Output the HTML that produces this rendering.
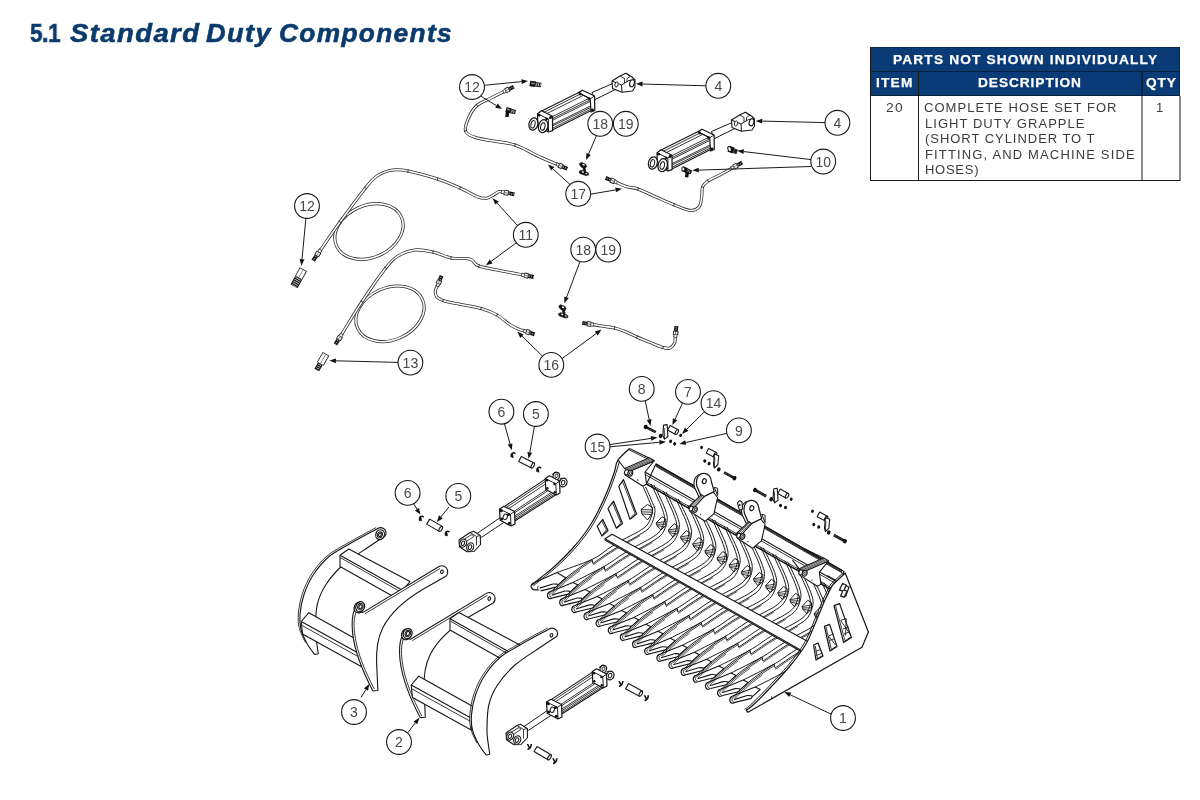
<!DOCTYPE html>
<html><head><meta charset="utf-8">
<style>
html,body{margin:0;padding:0;background:#fff;}
body{width:1200px;height:800px;position:relative;overflow:hidden;font-family:"Liberation Sans",sans-serif;}
.t{position:absolute;white-space:nowrap;transform-origin:0 0;line-height:normal;will-change:transform;}
.b{position:absolute;}
svg{position:absolute;left:0;top:0;filter:grayscale(1);}
</style></head><body>
<div class="b" style="left:870px;top:47px;width:310px;height:49px;background:#0a3b76"></div>
<div class="b" style="left:870px;top:47px;width:310px;height:1px;background:#0a2a55"></div>
<div class="b" style="left:870px;top:71px;width:310px;height:1px;background:#06203f"></div>
<div class="b" style="left:870px;top:95px;width:310px;height:1px;background:#06203f"></div>
<div class="b" style="left:870px;top:47px;width:1px;height:134px;background:#1a1a1a"></div>
<div class="b" style="left:918px;top:72px;width:1px;height:109px;background:#1a1a1a"></div>
<div class="b" style="left:1141px;top:72px;width:1.5px;height:24px;background:#06203f"></div>
<div class="b" style="left:1141px;top:96px;width:1.5px;height:85px;background:#8c8c8c"></div>
<div class="b" style="left:1179px;top:47px;width:1px;height:49px;background:#0a2a55"></div>
<div class="b" style="left:1179px;top:96px;width:1.5px;height:85px;background:#8c8c8c"></div>
<div class="b" style="left:870px;top:180px;width:310px;height:1px;background:#1a1a1a"></div>
<div class="t" style="-webkit-text-stroke:0.55px #0b3a6c;left:30.4px;top:19.4px;font-size:25.8px;font-weight:bold;font-style:normal;color:#0b3a6c;letter-spacing:-0.50px;transform:scaleX(0.8774)">5.1</div>
<div class="t" style="-webkit-text-stroke:0.55px #0b3a6c;left:70.0px;top:19.4px;font-size:25.8px;font-weight:bold;font-style:italic;color:#0b3a6c;letter-spacing:1.30px;transform:scaleX(1.0669)">Standard</div>
<div class="t" style="-webkit-text-stroke:0.55px #0b3a6c;left:206.0px;top:19.4px;font-size:25.8px;font-weight:bold;font-style:italic;color:#0b3a6c;letter-spacing:1.30px;transform:scaleX(1.0534)">Duty</div>
<div class="t" style="-webkit-text-stroke:0.55px #0b3a6c;left:278.7px;top:19.4px;font-size:25.8px;font-weight:bold;font-style:italic;color:#0b3a6c;letter-spacing:1.30px;transform:scaleX(1.0192)">Components</div>
<div class="t" style="-webkit-text-stroke:0.25px #fff;left:893.3px;top:51.6px;font-size:13.7px;font-weight:bold;font-style:normal;color:#fff;letter-spacing:1.16px;transform:scaleX(1.0000)">PARTS NOT SHOWN INDIVIDUALLY</div>
<div class="t" style="-webkit-text-stroke:0.25px #fff;left:876.4px;top:75.4px;font-size:13.7px;font-weight:bold;font-style:normal;color:#fff;letter-spacing:1.20px;transform:scaleX(1.0000)">ITEM</div>
<div class="t" style="-webkit-text-stroke:0.25px #fff;left:978.4px;top:75.4px;font-size:13.7px;font-weight:bold;font-style:normal;color:#fff;letter-spacing:0.94px;transform:scaleX(1.0000)">DESCRIPTION</div>
<div class="t" style="-webkit-text-stroke:0.25px #fff;left:1146.0px;top:75.4px;font-size:13.7px;font-weight:bold;font-style:normal;color:#fff;letter-spacing:0.93px;transform:scaleX(1.0000)">QTY</div>
<div class="t" style="left:886.0px;top:100.0px;font-size:13.0px;font-weight:normal;font-style:normal;color:#3c3c3c;letter-spacing:1.30px;transform:scaleX(1.0591)">20</div>
<div class="t" style="left:1156.3px;top:100.0px;font-size:13.0px;font-weight:normal;font-style:normal;color:#3c3c3c;letter-spacing:-0.03px;transform:scaleX(0.9952)">1</div>
<div class="t" style="left:924.0px;top:100.0px;font-size:13.0px;font-weight:normal;font-style:normal;color:#3c3c3c;letter-spacing:1.04px;transform:scaleX(1.0000)">COMPLETE HOSE SET FOR</div>
<div class="t" style="left:924.5px;top:115.6px;font-size:13.0px;font-weight:normal;font-style:normal;color:#3c3c3c;letter-spacing:1.04px;transform:scaleX(1.0000)">LIGHT DUTY GRAPPLE</div>
<div class="t" style="left:924.5px;top:131.2px;font-size:13.0px;font-weight:normal;font-style:normal;color:#3c3c3c;letter-spacing:0.96px;transform:scaleX(1.0000)">(SHORT CYLINDER TO T</div>
<div class="t" style="left:924.5px;top:146.8px;font-size:13.0px;font-weight:normal;font-style:normal;color:#3c3c3c;letter-spacing:1.15px;transform:scaleX(1.0000)">FITTING, AND MACHINE SIDE</div>
<div class="t" style="left:924.5px;top:162.4px;font-size:13.0px;font-weight:normal;font-style:normal;color:#3c3c3c;letter-spacing:0.73px;transform:scaleX(1.0000)">HOSES)</div>

<svg id="dwg" width="1200" height="800" viewBox="0 0 1200 800" fill="none" stroke="#222" stroke-width="1" font-family="Liberation Sans, sans-serif">
<path d="M503.5 91.8C501.2 92.9 494.4 96.2 490.0 98.5C485.6 100.8 480.5 102.4 477.0 105.5C473.5 108.6 470.9 112.8 469.0 117.0C467.1 121.2 464.7 127.7 465.5 131.0C466.3 134.3 469.9 135.4 474.0 137.0C478.1 138.6 483.2 139.2 490.0 140.5C496.8 141.8 506.7 142.2 515.0 145.0C523.3 147.8 533.0 153.8 540.0 157.0C547.0 160.2 553.9 163.0 556.7 164.2" stroke="#2b2b2b" stroke-width="3.10" stroke-linecap="butt" stroke-linejoin="round"/>
<path d="M503.5 91.8C501.2 92.9 494.4 96.2 490.0 98.5C485.6 100.8 480.5 102.4 477.0 105.5C473.5 108.6 470.9 112.8 469.0 117.0C467.1 121.2 464.7 127.7 465.5 131.0C466.3 134.3 469.9 135.4 474.0 137.0C478.1 138.6 483.2 139.2 490.0 140.5C496.8 141.8 506.7 142.2 515.0 145.0C523.3 147.8 533.0 153.8 540.0 157.0C547.0 160.2 553.9 163.0 556.7 164.2" stroke="#fff" stroke-width="1.55" stroke-linecap="butt" stroke-linejoin="round"/>
<path d="M476.0 104.3L478.0 106.7" stroke="#161616" stroke-width="0.85"/>
<path d="M464.0 131.4L467.0 130.6" stroke="#161616" stroke-width="0.85"/>
<path d="M514.5 146.5L515.5 143.5" stroke="#161616" stroke-width="0.85"/>
<path d="M503.1 92.0L505.4 90.9" stroke="#222" stroke-width="3.90"/>
<path d="M503.6 91.8L505.4 90.9" stroke="#fff" stroke-width="2.30"/>
<path d="M505.4 90.9L509.2 89.0" stroke="#1a1a1a" stroke-width="5.40"/>
<path d="M506.0 90.6L508.5 89.3" stroke="#f4f4f4" stroke-width="3.60"/>
<path d="M506.0 90.6L508.5 89.3" stroke="#555" stroke-width="0.73"/>
<path d="M509.2 89.0L513.8 86.7" stroke="#111" stroke-width="3.90"/>
<path d="M509.9 88.6L513.8 86.7" stroke="#bbb" stroke-width="1.60" stroke-dasharray="0.7 1.3"/>
<path d="M556.2 164.0L558.6 165.0" stroke="#222" stroke-width="3.90"/>
<path d="M556.8 164.2L558.6 165.0" stroke="#fff" stroke-width="2.30"/>
<path d="M558.6 165.0L562.5 166.7" stroke="#1a1a1a" stroke-width="5.40"/>
<path d="M559.3 165.3L561.9 166.4" stroke="#f4f4f4" stroke-width="3.60"/>
<path d="M559.3 165.3L561.9 166.4" stroke="#555" stroke-width="0.73"/>
<path d="M562.5 166.7L567.3 168.8" stroke="#111" stroke-width="3.90"/>
<path d="M563.2 167.0L567.3 168.8" stroke="#bbb" stroke-width="1.60" stroke-dasharray="0.7 1.3"/>
<path d="M616.7 182.5C618.4 183.2 623.5 185.7 627.0 186.8C630.5 187.9 633.2 187.3 638.0 189.0C642.8 190.7 650.0 194.4 656.0 197.0C662.0 199.6 668.3 202.6 674.0 204.8C679.7 207.0 685.8 210.0 690.0 210.4C694.2 210.8 697.0 209.2 699.0 207.0C701.0 204.8 701.1 200.3 701.7 197.0C702.3 193.7 701.5 189.7 702.5 187.0C703.5 184.3 705.1 183.0 708.0 181.0C710.9 179.0 716.0 176.9 720.0 174.8C724.0 172.7 729.8 169.4 731.7 168.3" stroke="#2b2b2b" stroke-width="3.10" stroke-linecap="butt" stroke-linejoin="round"/>
<path d="M616.7 182.5C618.4 183.2 623.5 185.7 627.0 186.8C630.5 187.9 633.2 187.3 638.0 189.0C642.8 190.7 650.0 194.4 656.0 197.0C662.0 199.6 668.3 202.6 674.0 204.8C679.7 207.0 685.8 210.0 690.0 210.4C694.2 210.8 697.0 209.2 699.0 207.0C701.0 204.8 701.1 200.3 701.7 197.0C702.3 193.7 701.5 189.7 702.5 187.0C703.5 184.3 705.1 183.0 708.0 181.0C710.9 179.0 716.0 176.9 720.0 174.8C724.0 172.7 729.8 169.4 731.7 168.3" stroke="#fff" stroke-width="1.55" stroke-linecap="butt" stroke-linejoin="round"/>
<path d="M637.5 190.5L638.5 187.5" stroke="#161616" stroke-width="0.85"/>
<path d="M673.4 206.2L674.6 203.4" stroke="#161616" stroke-width="0.85"/>
<path d="M703.9 187.6L701.1 186.4" stroke="#161616" stroke-width="0.85"/>
<path d="M708.9 182.3L707.1 179.7" stroke="#161616" stroke-width="0.85"/>
<path d="M617.2 182.7L614.7 181.7" stroke="#222" stroke-width="3.90"/>
<path d="M616.6 182.5L614.7 181.7" stroke="#fff" stroke-width="2.30"/>
<path d="M614.7 181.7L610.6 180.0" stroke="#1a1a1a" stroke-width="5.40"/>
<path d="M614.0 181.4L611.3 180.2" stroke="#f4f4f4" stroke-width="3.60"/>
<path d="M614.0 181.4L611.3 180.2" stroke="#555" stroke-width="0.73"/>
<path d="M610.6 180.0L605.6 177.9" stroke="#111" stroke-width="3.90"/>
<path d="M609.9 179.6L605.6 177.9" stroke="#bbb" stroke-width="1.60" stroke-dasharray="0.7 1.3"/>
<path d="M731.3 168.5L733.6 167.2" stroke="#222" stroke-width="3.90"/>
<path d="M731.8 168.3L733.6 167.2" stroke="#fff" stroke-width="2.30"/>
<path d="M733.6 167.2L737.5 165.1" stroke="#1a1a1a" stroke-width="5.40"/>
<path d="M734.2 166.9L736.9 165.4" stroke="#f4f4f4" stroke-width="3.60"/>
<path d="M734.2 166.9L736.9 165.4" stroke="#555" stroke-width="0.73"/>
<path d="M737.5 165.1L742.2 162.5" stroke="#111" stroke-width="3.90"/>
<path d="M738.2 164.7L742.2 162.5" stroke="#bbb" stroke-width="1.60" stroke-dasharray="0.7 1.3"/>
<ellipse cx="369" cy="231.5" rx="35.5" ry="26" transform="rotate(-24 369 231.5)" stroke="#2b2b2b" stroke-width="3.10"/>
<ellipse cx="369" cy="231.5" rx="35.5" ry="26" transform="rotate(-24 369 231.5)" stroke="#fff" stroke-width="1.55"/>
<path d="M320.5 250.0C323.8 245.3 332.5 232.3 340.0 222.0C347.5 211.7 359.3 195.7 365.5 188.0C371.7 180.3 372.5 179.0 377.0 176.0C381.5 173.0 387.3 170.8 392.5 170.0C397.7 169.2 400.5 169.5 408.0 171.0C415.5 172.5 428.8 176.2 437.5 179.0C446.2 181.8 453.2 185.0 460.0 188.0C466.8 191.0 473.6 195.3 478.0 197.0C482.4 198.7 484.0 198.5 486.5 198.2C489.0 197.9 491.2 196.3 493.0 195.3C494.8 194.3 496.4 192.9 497.5 192.3C498.6 191.7 498.8 191.6 499.5 191.5C500.2 191.4 501.2 191.8 501.6 191.9" stroke="#2b2b2b" stroke-width="3.10" stroke-linecap="butt" stroke-linejoin="round"/>
<path d="M320.5 250.0C323.8 245.3 332.5 232.3 340.0 222.0C347.5 211.7 359.3 195.7 365.5 188.0C371.7 180.3 372.5 179.0 377.0 176.0C381.5 173.0 387.3 170.8 392.5 170.0C397.7 169.2 400.5 169.5 408.0 171.0C415.5 172.5 428.8 176.2 437.5 179.0C446.2 181.8 453.2 185.0 460.0 188.0C466.8 191.0 473.6 195.3 478.0 197.0C482.4 198.7 484.0 198.5 486.5 198.2C489.0 197.9 491.2 196.3 493.0 195.3C494.8 194.3 496.4 192.9 497.5 192.3C498.6 191.7 498.8 191.6 499.5 191.5C500.2 191.4 501.2 191.8 501.6 191.9" stroke="#fff" stroke-width="1.55" stroke-linecap="butt" stroke-linejoin="round"/>
<path d="M341.3 222.9L338.7 221.1" stroke="#161616" stroke-width="0.85"/>
<path d="M366.7 189.0L364.3 187.0" stroke="#161616" stroke-width="0.85"/>
<path d="M407.7 172.5L408.3 169.5" stroke="#161616" stroke-width="0.85"/>
<path d="M437.0 180.5L438.0 177.5" stroke="#161616" stroke-width="0.85"/>
<path d="M459.4 189.4L460.6 186.6" stroke="#161616" stroke-width="0.85"/>
<path d="M320.8 249.6L319.1 252.0" stroke="#222" stroke-width="3.90"/>
<path d="M320.4 250.1L319.1 252.0" stroke="#fff" stroke-width="2.30"/>
<path d="M319.1 252.0L316.4 255.9" stroke="#1a1a1a" stroke-width="5.40"/>
<path d="M318.7 252.5L316.8 255.3" stroke="#f4f4f4" stroke-width="3.60"/>
<path d="M318.7 252.5L316.8 255.3" stroke="#555" stroke-width="0.73"/>
<path d="M316.4 255.9L313.1 260.7" stroke="#111" stroke-width="3.90"/>
<path d="M316.0 256.5L313.1 260.7" stroke="#bbb" stroke-width="1.60" stroke-dasharray="0.7 1.3"/>
<path d="M501.1 191.8L503.9 192.3" stroke="#222" stroke-width="3.90"/>
<path d="M501.7 191.9L503.9 192.3" stroke="#fff" stroke-width="2.30"/>
<path d="M503.9 192.3L508.6 193.2" stroke="#1a1a1a" stroke-width="5.40"/>
<path d="M504.6 192.5L507.9 193.1" stroke="#f4f4f4" stroke-width="3.60"/>
<path d="M504.6 192.5L507.9 193.1" stroke="#555" stroke-width="0.73"/>
<path d="M508.6 193.2L514.4 194.3" stroke="#111" stroke-width="3.90"/>
<path d="M509.4 193.4L514.4 194.3" stroke="#bbb" stroke-width="1.60" stroke-dasharray="0.7 1.3"/>
<ellipse cx="390" cy="313.8" rx="35.5" ry="26" transform="rotate(-24 390 313.8)" stroke="#2b2b2b" stroke-width="3.10"/>
<ellipse cx="390" cy="313.8" rx="35.5" ry="26" transform="rotate(-24 390 313.8)" stroke="#fff" stroke-width="1.55"/>
<path d="M341.8 334.2C345.1 328.8 354.7 312.6 362.0 301.6C369.3 290.6 379.8 275.6 385.8 268.0C391.8 260.4 393.1 259.0 398.0 256.0C402.9 253.0 409.2 250.7 415.0 250.0C420.8 249.3 427.0 250.7 433.0 252.0C439.0 253.3 445.5 256.9 451.0 258.0C456.5 259.1 462.5 258.2 466.0 258.5C469.5 258.8 469.8 258.8 472.0 260.0C474.2 261.2 473.5 264.1 479.0 266.0C484.5 267.9 497.9 270.0 505.0 271.5C512.1 273.0 519.1 274.2 521.9 274.8" stroke="#2b2b2b" stroke-width="3.10" stroke-linecap="butt" stroke-linejoin="round"/>
<path d="M341.8 334.2C345.1 328.8 354.7 312.6 362.0 301.6C369.3 290.6 379.8 275.6 385.8 268.0C391.8 260.4 393.1 259.0 398.0 256.0C402.9 253.0 409.2 250.7 415.0 250.0C420.8 249.3 427.0 250.7 433.0 252.0C439.0 253.3 445.5 256.9 451.0 258.0C456.5 259.1 462.5 258.2 466.0 258.5C469.5 258.8 469.8 258.8 472.0 260.0C474.2 261.2 473.5 264.1 479.0 266.0C484.5 267.9 497.9 270.0 505.0 271.5C512.1 273.0 519.1 274.2 521.9 274.8" stroke="#fff" stroke-width="1.55" stroke-linecap="butt" stroke-linejoin="round"/>
<path d="M363.3 302.5L360.7 300.7" stroke="#161616" stroke-width="0.85"/>
<path d="M387.0 269.0L384.6 267.0" stroke="#161616" stroke-width="0.85"/>
<path d="M432.7 253.5L433.3 250.5" stroke="#161616" stroke-width="0.85"/>
<path d="M450.7 259.5L451.3 256.5" stroke="#161616" stroke-width="0.85"/>
<path d="M478.5 267.5L479.5 264.5" stroke="#161616" stroke-width="0.85"/>
<path d="M342.0 333.8L340.6 336.1" stroke="#222" stroke-width="3.90"/>
<path d="M341.7 334.3L340.6 336.1" stroke="#fff" stroke-width="2.30"/>
<path d="M340.6 336.1L338.3 339.9" stroke="#1a1a1a" stroke-width="5.40"/>
<path d="M340.2 336.7L338.6 339.3" stroke="#f4f4f4" stroke-width="3.60"/>
<path d="M340.2 336.7L338.6 339.3" stroke="#555" stroke-width="0.73"/>
<path d="M338.3 339.9L335.4 344.4" stroke="#111" stroke-width="3.90"/>
<path d="M337.8 340.5L335.4 344.4" stroke="#bbb" stroke-width="1.60" stroke-dasharray="0.7 1.3"/>
<path d="M521.4 274.7L524.1 275.2" stroke="#222" stroke-width="3.90"/>
<path d="M522.0 274.8L524.1 275.2" stroke="#fff" stroke-width="2.30"/>
<path d="M524.1 275.2L528.4 276.0" stroke="#1a1a1a" stroke-width="5.40"/>
<path d="M524.7 275.3L527.7 275.9" stroke="#f4f4f4" stroke-width="3.60"/>
<path d="M524.7 275.3L527.7 275.9" stroke="#555" stroke-width="0.73"/>
<path d="M528.4 276.0L533.7 277.0" stroke="#111" stroke-width="3.90"/>
<path d="M529.2 276.1L533.7 277.0" stroke="#bbb" stroke-width="1.60" stroke-dasharray="0.7 1.3"/>
<path d="M437.4 285.9C437.0 286.8 435.4 289.1 435.3 291.0C435.2 292.9 435.5 295.4 436.8 297.0C438.1 298.6 440.5 299.5 443.0 300.5C445.5 301.5 445.7 301.4 452.0 302.8C458.3 304.1 473.5 306.4 481.0 308.4C488.5 310.4 492.1 312.2 497.0 315.0C501.9 317.8 506.8 322.6 510.5 325.0C514.2 327.4 516.8 328.3 519.0 329.3C521.2 330.3 523.2 330.6 524.0 330.9" stroke="#2b2b2b" stroke-width="3.10" stroke-linecap="butt" stroke-linejoin="round"/>
<path d="M437.4 285.9C437.0 286.8 435.4 289.1 435.3 291.0C435.2 292.9 435.5 295.4 436.8 297.0C438.1 298.6 440.5 299.5 443.0 300.5C445.5 301.5 445.7 301.4 452.0 302.8C458.3 304.1 473.5 306.4 481.0 308.4C488.5 310.4 492.1 312.2 497.0 315.0C501.9 317.8 506.8 322.6 510.5 325.0C514.2 327.4 516.8 328.3 519.0 329.3C521.2 330.3 523.2 330.6 524.0 330.9" stroke="#fff" stroke-width="1.55" stroke-linecap="butt" stroke-linejoin="round"/>
<path d="M442.5 301.9L443.5 299.1" stroke="#161616" stroke-width="0.85"/>
<path d="M480.6 309.9L481.4 306.9" stroke="#161616" stroke-width="0.85"/>
<path d="M496.2 316.4L497.8 313.6" stroke="#161616" stroke-width="0.85"/>
<path d="M437.2 286.4L438.2 284.0" stroke="#222" stroke-width="3.90"/>
<path d="M437.4 285.8L438.2 284.0" stroke="#fff" stroke-width="2.30"/>
<path d="M438.2 284.0L439.7 280.3" stroke="#1a1a1a" stroke-width="5.40"/>
<path d="M438.4 283.4L439.4 281.0" stroke="#f4f4f4" stroke-width="3.60"/>
<path d="M438.4 283.4L439.4 281.0" stroke="#555" stroke-width="0.73"/>
<path d="M439.7 280.3L441.6 275.7" stroke="#111" stroke-width="3.90"/>
<path d="M440.0 279.6L441.6 275.7" stroke="#bbb" stroke-width="1.60" stroke-dasharray="0.7 1.3"/>
<path d="M523.5 330.7L525.9 331.5" stroke="#222" stroke-width="3.90"/>
<path d="M524.1 330.9L525.9 331.5" stroke="#fff" stroke-width="2.30"/>
<path d="M525.9 331.5L529.8 332.7" stroke="#1a1a1a" stroke-width="5.40"/>
<path d="M526.6 331.7L529.1 332.5" stroke="#f4f4f4" stroke-width="3.60"/>
<path d="M526.6 331.7L529.1 332.5" stroke="#555" stroke-width="0.73"/>
<path d="M529.8 332.7L534.5 334.3" stroke="#111" stroke-width="3.90"/>
<path d="M530.5 333.0L534.5 334.3" stroke="#bbb" stroke-width="1.60" stroke-dasharray="0.7 1.3"/>
<path d="M593.1 324.6C594.6 324.8 598.4 325.4 602.0 326.0C605.6 326.6 610.7 327.1 614.5 328.0C618.3 328.9 621.2 330.0 625.0 331.5C628.8 333.0 632.8 335.1 637.0 337.0C641.2 338.9 646.2 340.9 650.5 342.6C654.8 344.4 659.8 346.6 663.0 347.5C666.2 348.4 668.1 348.8 670.0 348.0C671.9 347.2 673.7 344.8 674.6 343.0C675.5 341.2 675.1 338.0 675.2 337.0" stroke="#2b2b2b" stroke-width="3.10" stroke-linecap="butt" stroke-linejoin="round"/>
<path d="M593.1 324.6C594.6 324.8 598.4 325.4 602.0 326.0C605.6 326.6 610.7 327.1 614.5 328.0C618.3 328.9 621.2 330.0 625.0 331.5C628.8 333.0 632.8 335.1 637.0 337.0C641.2 338.9 646.2 340.9 650.5 342.6C654.8 344.4 659.8 346.6 663.0 347.5C666.2 348.4 668.1 348.8 670.0 348.0C671.9 347.2 673.7 344.8 674.6 343.0C675.5 341.2 675.1 338.0 675.2 337.0" stroke="#fff" stroke-width="1.55" stroke-linecap="butt" stroke-linejoin="round"/>
<path d="M614.1 329.5L614.9 326.5" stroke="#161616" stroke-width="0.85"/>
<path d="M636.4 338.4L637.6 335.6" stroke="#161616" stroke-width="0.85"/>
<path d="M662.6 349.0L663.4 346.0" stroke="#161616" stroke-width="0.85"/>
<path d="M593.6 324.7L591.1 324.3" stroke="#222" stroke-width="3.90"/>
<path d="M593.0 324.6L591.1 324.3" stroke="#fff" stroke-width="2.30"/>
<path d="M591.1 324.3L587.1 323.7" stroke="#1a1a1a" stroke-width="5.40"/>
<path d="M590.4 324.2L587.8 323.8" stroke="#f4f4f4" stroke-width="3.60"/>
<path d="M590.4 324.2L587.8 323.8" stroke="#555" stroke-width="0.73"/>
<path d="M587.1 323.7L582.2 322.9" stroke="#111" stroke-width="3.90"/>
<path d="M586.3 323.5L582.2 322.9" stroke="#bbb" stroke-width="1.60" stroke-dasharray="0.7 1.3"/>
<path d="M675.2 337.5L675.5 335.0" stroke="#222" stroke-width="3.90"/>
<path d="M675.3 336.9L675.5 335.0" stroke="#fff" stroke-width="2.30"/>
<path d="M675.5 335.0L675.9 331.0" stroke="#1a1a1a" stroke-width="5.40"/>
<path d="M675.5 334.3L675.8 331.7" stroke="#f4f4f4" stroke-width="3.60"/>
<path d="M675.5 334.3L675.8 331.7" stroke="#555" stroke-width="0.73"/>
<path d="M675.9 331.0L676.4 326.1" stroke="#111" stroke-width="3.90"/>
<path d="M676.0 330.2L676.4 326.1" stroke="#bbb" stroke-width="1.60" stroke-dasharray="0.7 1.3"/>
<path d="M592.0 92.5L613.2 83.3L617.0 88.7L594.5 99.8Z" fill="#fff" stroke="#161616" stroke-width="0.98" stroke-linejoin="round"/>
<path d="M612.0 81.0L620.0 76.0L626.0 73.2L632.0 77.0L635.0 80.0L635.0 87.0L632.5 91.0L622.0 92.3L612.5 88.5Z" fill="#fff" stroke="#161616" stroke-width="1.10" stroke-linejoin="round"/>
<path d="M612.0 81.0L621.5 85.0L622.0 92.3" fill="none" stroke="#161616" stroke-width="0.98" stroke-linejoin="round"/>
<path d="M621.5 85.0L629.0 80.5L634.0 80.0" fill="none" stroke="#161616" stroke-width="0.98" stroke-linejoin="round"/>
<path d="M620.0 76.0L624.5 78.5L624.5 83.0" fill="none" stroke="#161616" stroke-width="0.85" stroke-linejoin="round"/>
<path d="M626.0 73.2L630.0 76.5L627.0 78.5L627.0 82.0" fill="none" stroke="#161616" stroke-width="0.85" stroke-linejoin="round"/>
<ellipse cx="632.0" cy="83.3" rx="2.3" ry="3.6" transform="rotate(15 632.0 83.3)" fill="#fff" stroke="#161616" stroke-width="1.10"/>
<ellipse cx="616.5" cy="84.5" rx="1.6" ry="2.6" transform="rotate(15 616.5 84.5)" fill="#fff" stroke="#161616" stroke-width="0.85"/>
<path d="M540.6 111.5L580.7 91.4L593.7 97.5L593.7 109.3L551.4 130.4L540.6 124.0Z" fill="#fff" stroke="#161616" stroke-width="1.10" stroke-linejoin="round"/>
<path d="M543.3 112.6L581.8 93.3" fill="none" stroke="#161616" stroke-width="0.85" stroke-linejoin="round"/>
<path d="M546.0 114.0L584.0 95.0" fill="none" stroke="#161616" stroke-width="0.85" stroke-linejoin="round"/>
<path d="M552.5 116.6L590.4 97.7" fill="none" stroke="#161616" stroke-width="0.85" stroke-linejoin="round"/>
<path d="M552.5 118.6L590.4 99.7" fill="none" stroke="#161616" stroke-width="0.85" stroke-linejoin="round"/>
<path d="M552.5 120.2L590.4 101.3" fill="none" stroke="#161616" stroke-width="0.85" stroke-linejoin="round"/>
<path d="M552.5 124.6L591.5 105.5" fill="none" stroke="#161616" stroke-width="0.85" stroke-linejoin="round"/>
<path d="M552.5 126.0L591.5 107.0" fill="none" stroke="#161616" stroke-width="0.85" stroke-linejoin="round"/>
<path d="M551.4 128.8L592.6 108.2" fill="none" stroke="#161616" stroke-width="0.85" stroke-linejoin="round"/>
<path d="M578.5 92.8L582.5 90.2L594.6 96.0L594.8 110.5L591.0 112.0L590.2 98.8Z" fill="#fff" stroke="#161616" stroke-width="1.22" stroke-linejoin="round"/>
<path d="M590.2 98.8L594.6 96.0" fill="none" stroke="#161616" stroke-width="0.98" stroke-linejoin="round"/>
<path d="M578.5 92.8L590.2 98.8" fill="none" stroke="#161616" stroke-width="0.98" stroke-linejoin="round"/>
<path d="M537.5 113.8L541.5 110.8L552.5 116.2L552.6 130.6L548.5 132.0L537.8 126.5Z" fill="#fff" stroke="#161616" stroke-width="1.22" stroke-linejoin="round"/>
<path d="M537.5 113.8L548.3 119.0L548.5 132.0" fill="none" stroke="#161616" stroke-width="0.98" stroke-linejoin="round"/>
<path d="M548.3 119.0L552.5 116.2" fill="none" stroke="#161616" stroke-width="0.98" stroke-linejoin="round"/>
<circle cx="539.2" cy="115.2" r="1.4" fill="#111" stroke="none"/>
<circle cx="546.6" cy="118.9" r="1.4" fill="#111" stroke="none"/>
<circle cx="539.5" cy="124.8" r="1.4" fill="#111" stroke="none"/>
<circle cx="547" cy="129.4" r="1.4" fill="#111" stroke="none"/>
<circle cx="550.6" cy="117.5" r="1.4" fill="#111" stroke="none"/>
<circle cx="580.2" cy="94" r="1.4" fill="#111" stroke="none"/>
<circle cx="589" cy="98.6" r="1.4" fill="#111" stroke="none"/>
<circle cx="592.5" cy="110" r="1.4" fill="#111" stroke="none"/>
<ellipse cx="533.4" cy="124.0" rx="4.4" ry="6.3" transform="rotate(14 533.4 124.0)" fill="#fff" stroke="#161616" stroke-width="1.22"/>
<ellipse cx="533.0" cy="124.3" rx="2.0" ry="3.8" transform="rotate(14 533.0 124.3)" fill="#fff" stroke="#161616" stroke-width="0.98"/>
<ellipse cx="543.2" cy="126.2" rx="4.6" ry="6.6" transform="rotate(14 543.2 126.2)" fill="#fff" stroke="#161616" stroke-width="1.22"/>
<ellipse cx="542.8" cy="126.5" rx="2.1" ry="3.9" transform="rotate(14 542.8 126.5)" fill="#fff" stroke="#161616" stroke-width="0.98"/>
<g transform="translate(119.5 39)">
<path d="M592.0 92.5L613.2 83.3L617.0 88.7L594.5 99.8Z" fill="#fff" stroke="#161616" stroke-width="0.98" stroke-linejoin="round"/>
<path d="M612.0 81.0L620.0 76.0L626.0 73.2L632.0 77.0L635.0 80.0L635.0 87.0L632.5 91.0L622.0 92.3L612.5 88.5Z" fill="#fff" stroke="#161616" stroke-width="1.10" stroke-linejoin="round"/>
<path d="M612.0 81.0L621.5 85.0L622.0 92.3" fill="none" stroke="#161616" stroke-width="0.98" stroke-linejoin="round"/>
<path d="M621.5 85.0L629.0 80.5L634.0 80.0" fill="none" stroke="#161616" stroke-width="0.98" stroke-linejoin="round"/>
<path d="M620.0 76.0L624.5 78.5L624.5 83.0" fill="none" stroke="#161616" stroke-width="0.85" stroke-linejoin="round"/>
<path d="M626.0 73.2L630.0 76.5L627.0 78.5L627.0 82.0" fill="none" stroke="#161616" stroke-width="0.85" stroke-linejoin="round"/>
<ellipse cx="632.0" cy="83.3" rx="2.3" ry="3.6" transform="rotate(15 632.0 83.3)" fill="#fff" stroke="#161616" stroke-width="1.10"/>
<ellipse cx="616.5" cy="84.5" rx="1.6" ry="2.6" transform="rotate(15 616.5 84.5)" fill="#fff" stroke="#161616" stroke-width="0.85"/>
<path d="M540.6 111.5L580.7 91.4L593.7 97.5L593.7 109.3L551.4 130.4L540.6 124.0Z" fill="#fff" stroke="#161616" stroke-width="1.10" stroke-linejoin="round"/>
<path d="M543.3 112.6L581.8 93.3" fill="none" stroke="#161616" stroke-width="0.85" stroke-linejoin="round"/>
<path d="M546.0 114.0L584.0 95.0" fill="none" stroke="#161616" stroke-width="0.85" stroke-linejoin="round"/>
<path d="M552.5 116.6L590.4 97.7" fill="none" stroke="#161616" stroke-width="0.85" stroke-linejoin="round"/>
<path d="M552.5 118.6L590.4 99.7" fill="none" stroke="#161616" stroke-width="0.85" stroke-linejoin="round"/>
<path d="M552.5 120.2L590.4 101.3" fill="none" stroke="#161616" stroke-width="0.85" stroke-linejoin="round"/>
<path d="M552.5 124.6L591.5 105.5" fill="none" stroke="#161616" stroke-width="0.85" stroke-linejoin="round"/>
<path d="M552.5 126.0L591.5 107.0" fill="none" stroke="#161616" stroke-width="0.85" stroke-linejoin="round"/>
<path d="M551.4 128.8L592.6 108.2" fill="none" stroke="#161616" stroke-width="0.85" stroke-linejoin="round"/>
<path d="M578.5 92.8L582.5 90.2L594.6 96.0L594.8 110.5L591.0 112.0L590.2 98.8Z" fill="#fff" stroke="#161616" stroke-width="1.22" stroke-linejoin="round"/>
<path d="M590.2 98.8L594.6 96.0" fill="none" stroke="#161616" stroke-width="0.98" stroke-linejoin="round"/>
<path d="M578.5 92.8L590.2 98.8" fill="none" stroke="#161616" stroke-width="0.98" stroke-linejoin="round"/>
<path d="M537.5 113.8L541.5 110.8L552.5 116.2L552.6 130.6L548.5 132.0L537.8 126.5Z" fill="#fff" stroke="#161616" stroke-width="1.22" stroke-linejoin="round"/>
<path d="M537.5 113.8L548.3 119.0L548.5 132.0" fill="none" stroke="#161616" stroke-width="0.98" stroke-linejoin="round"/>
<path d="M548.3 119.0L552.5 116.2" fill="none" stroke="#161616" stroke-width="0.98" stroke-linejoin="round"/>
<circle cx="539.2" cy="115.2" r="1.4" fill="#111" stroke="none"/>
<circle cx="546.6" cy="118.9" r="1.4" fill="#111" stroke="none"/>
<circle cx="539.5" cy="124.8" r="1.4" fill="#111" stroke="none"/>
<circle cx="547" cy="129.4" r="1.4" fill="#111" stroke="none"/>
<circle cx="550.6" cy="117.5" r="1.4" fill="#111" stroke="none"/>
<circle cx="580.2" cy="94" r="1.4" fill="#111" stroke="none"/>
<circle cx="589" cy="98.6" r="1.4" fill="#111" stroke="none"/>
<circle cx="592.5" cy="110" r="1.4" fill="#111" stroke="none"/>
<ellipse cx="533.4" cy="124.0" rx="4.4" ry="6.3" transform="rotate(14 533.4 124.0)" fill="#fff" stroke="#161616" stroke-width="1.22"/>
<ellipse cx="533.0" cy="124.3" rx="2.0" ry="3.8" transform="rotate(14 533.0 124.3)" fill="#fff" stroke="#161616" stroke-width="0.98"/>
<ellipse cx="543.2" cy="126.2" rx="4.6" ry="6.6" transform="rotate(14 543.2 126.2)" fill="#fff" stroke="#161616" stroke-width="1.22"/>
<ellipse cx="542.8" cy="126.5" rx="2.1" ry="3.9" transform="rotate(14 542.8 126.5)" fill="#fff" stroke="#161616" stroke-width="0.98"/>
</g>
<path d="M477.0 533.5L501.5 516.7L505.5 521.3L481.5 537.3Z" fill="#fff" stroke="#161616" stroke-width="0.98" stroke-linejoin="round"/>
<path d="M459.0 540.0L470.0 532.5L473.5 531.3L480.3 535.5L480.5 544.5L474.0 551.5L467.0 551.7L459.5 546.8Z" fill="#fff" stroke="#161616" stroke-width="1.10" stroke-linejoin="round"/>
<path d="M470.0 532.5L476.5 536.5L480.3 535.5" fill="none" stroke="#161616" stroke-width="0.85" stroke-linejoin="round"/>
<path d="M476.5 536.5L476.5 545.5" fill="none" stroke="#161616" stroke-width="0.85" stroke-linejoin="round"/>
<path d="M463.5 539.5L472.0 534.5L474.0 536.3L466.5 541.5" fill="none" stroke="#161616" stroke-width="0.85" stroke-linejoin="round"/>
<ellipse cx="463.2" cy="543.2" rx="3.3" ry="4.2" transform="rotate(25 463.2 543.2)" fill="#fff" stroke="#161616" stroke-width="1.10"/>
<ellipse cx="463.0" cy="543.3" rx="1.5" ry="2.3" transform="rotate(25 463.0 543.3)" fill="#fff" stroke="#161616" stroke-width="0.98"/>
<ellipse cx="470.2" cy="547.0" rx="3.4" ry="4.3" transform="rotate(25 470.2 547.0)" fill="#fff" stroke="#161616" stroke-width="1.10"/>
<ellipse cx="470.0" cy="547.1" rx="1.6" ry="2.4" transform="rotate(25 470.0 547.1)" fill="#fff" stroke="#161616" stroke-width="0.98"/>
<path d="M503.8 506.9L548.8 476.9L557.5 482.0L557.5 493.8L514.4 521.2L505.0 517.0Z" fill="#fff" stroke="#161616" stroke-width="1.10" stroke-linejoin="round"/>
<path d="M505.5 508.0L550.0 478.3" fill="none" stroke="#161616" stroke-width="0.85" stroke-linejoin="round"/>
<path d="M507.5 509.4L551.5 480.0" fill="none" stroke="#161616" stroke-width="0.85" stroke-linejoin="round"/>
<path d="M511.5 513.0L555.0 484.2" fill="none" stroke="#161616" stroke-width="0.85" stroke-linejoin="round"/>
<path d="M511.8 514.6L555.3 485.8" fill="none" stroke="#161616" stroke-width="0.85" stroke-linejoin="round"/>
<path d="M512.5 517.5L556.5 489.3" fill="none" stroke="#161616" stroke-width="0.85" stroke-linejoin="round"/>
<path d="M513.0 518.8L557.0 490.7" fill="none" stroke="#161616" stroke-width="0.85" stroke-linejoin="round"/>
<path d="M514.0 520.0L557.3 492.3" fill="none" stroke="#161616" stroke-width="0.85" stroke-linejoin="round"/>
<path d="M499.5 509.0L504.0 506.3L514.6 511.5L515.0 524.0L511.0 526.0L500.2 520.3Z" fill="#fff" stroke="#161616" stroke-width="1.22" stroke-linejoin="round"/>
<path d="M499.5 509.0L510.5 514.3L511.0 526.0" fill="none" stroke="#161616" stroke-width="0.98" stroke-linejoin="round"/>
<path d="M510.5 514.3L514.6 511.5" fill="none" stroke="#161616" stroke-width="0.98" stroke-linejoin="round"/>
<circle cx="501.3" cy="510.8" r="1.5" fill="#111" stroke="none"/>
<circle cx="508.6" cy="514.6" r="1.5" fill="#111" stroke="none"/>
<circle cx="501.7" cy="519" r="1.5" fill="#111" stroke="none"/>
<circle cx="509.3" cy="523.2" r="1.5" fill="#111" stroke="none"/>
<ellipse cx="505.3" cy="516.8" rx="2.1" ry="2.7" transform="rotate(20 505.3 516.8)" fill="#fff" stroke="#161616" stroke-width="0.98"/>
<ellipse cx="556.3" cy="476.0" rx="3.2" ry="3.8" transform="rotate(20 556.3 476.0)" fill="#fff" stroke="#161616" stroke-width="1.10"/>
<ellipse cx="556.5" cy="475.8" rx="1.4" ry="1.9" transform="rotate(20 556.5 475.8)" fill="#fff" stroke="#161616" stroke-width="0.85"/>
<path d="M545.3 478.5L549.5 475.8L559.6 481.0L560.0 493.0L556.3 495.0L545.8 489.5Z" fill="#fff" stroke="#161616" stroke-width="1.22" stroke-linejoin="round"/>
<path d="M545.3 478.5L555.8 483.8L556.3 495.0" fill="none" stroke="#161616" stroke-width="0.98" stroke-linejoin="round"/>
<path d="M555.8 483.8L559.6 481.0" fill="none" stroke="#161616" stroke-width="0.98" stroke-linejoin="round"/>
<circle cx="547" cy="480.2" r="1.2" fill="#111" stroke="none"/>
<circle cx="554.4" cy="484" r="1.2" fill="#111" stroke="none"/>
<circle cx="547.3" cy="488.2" r="1.2" fill="#111" stroke="none"/>
<circle cx="554.8" cy="492.2" r="1.2" fill="#111" stroke="none"/>
<ellipse cx="563.2" cy="482.5" rx="3.7" ry="4.4" transform="rotate(20 563.2 482.5)" fill="#fff" stroke="#161616" stroke-width="1.22"/>
<ellipse cx="563.1" cy="482.6" rx="1.7" ry="2.4" transform="rotate(20 563.1 482.6)" fill="#fff" stroke="#161616" stroke-width="0.98"/>
<path d="M552.0 474.5L555.0 472.3L558.5 473.0" fill="none" stroke="#161616" stroke-width="0.98" stroke-linejoin="round"/>
<path d="M559.5 479.0L562.0 478.0" fill="none" stroke="#161616" stroke-width="0.98" stroke-linejoin="round"/>
<g transform="translate(47 193)">
<path d="M477.0 533.5L501.5 516.7L505.5 521.3L481.5 537.3Z" fill="#fff" stroke="#161616" stroke-width="0.98" stroke-linejoin="round"/>
<path d="M459.0 540.0L470.0 532.5L473.5 531.3L480.3 535.5L480.5 544.5L474.0 551.5L467.0 551.7L459.5 546.8Z" fill="#fff" stroke="#161616" stroke-width="1.10" stroke-linejoin="round"/>
<path d="M470.0 532.5L476.5 536.5L480.3 535.5" fill="none" stroke="#161616" stroke-width="0.85" stroke-linejoin="round"/>
<path d="M476.5 536.5L476.5 545.5" fill="none" stroke="#161616" stroke-width="0.85" stroke-linejoin="round"/>
<path d="M463.5 539.5L472.0 534.5L474.0 536.3L466.5 541.5" fill="none" stroke="#161616" stroke-width="0.85" stroke-linejoin="round"/>
<ellipse cx="463.2" cy="543.2" rx="3.3" ry="4.2" transform="rotate(25 463.2 543.2)" fill="#fff" stroke="#161616" stroke-width="1.10"/>
<ellipse cx="463.0" cy="543.3" rx="1.5" ry="2.3" transform="rotate(25 463.0 543.3)" fill="#fff" stroke="#161616" stroke-width="0.98"/>
<ellipse cx="470.2" cy="547.0" rx="3.4" ry="4.3" transform="rotate(25 470.2 547.0)" fill="#fff" stroke="#161616" stroke-width="1.10"/>
<ellipse cx="470.0" cy="547.1" rx="1.6" ry="2.4" transform="rotate(25 470.0 547.1)" fill="#fff" stroke="#161616" stroke-width="0.98"/>
<path d="M503.8 506.9L548.8 476.9L557.5 482.0L557.5 493.8L514.4 521.2L505.0 517.0Z" fill="#fff" stroke="#161616" stroke-width="1.10" stroke-linejoin="round"/>
<path d="M505.5 508.0L550.0 478.3" fill="none" stroke="#161616" stroke-width="0.85" stroke-linejoin="round"/>
<path d="M507.5 509.4L551.5 480.0" fill="none" stroke="#161616" stroke-width="0.85" stroke-linejoin="round"/>
<path d="M511.5 513.0L555.0 484.2" fill="none" stroke="#161616" stroke-width="0.85" stroke-linejoin="round"/>
<path d="M511.8 514.6L555.3 485.8" fill="none" stroke="#161616" stroke-width="0.85" stroke-linejoin="round"/>
<path d="M512.5 517.5L556.5 489.3" fill="none" stroke="#161616" stroke-width="0.85" stroke-linejoin="round"/>
<path d="M513.0 518.8L557.0 490.7" fill="none" stroke="#161616" stroke-width="0.85" stroke-linejoin="round"/>
<path d="M514.0 520.0L557.3 492.3" fill="none" stroke="#161616" stroke-width="0.85" stroke-linejoin="round"/>
<path d="M499.5 509.0L504.0 506.3L514.6 511.5L515.0 524.0L511.0 526.0L500.2 520.3Z" fill="#fff" stroke="#161616" stroke-width="1.22" stroke-linejoin="round"/>
<path d="M499.5 509.0L510.5 514.3L511.0 526.0" fill="none" stroke="#161616" stroke-width="0.98" stroke-linejoin="round"/>
<path d="M510.5 514.3L514.6 511.5" fill="none" stroke="#161616" stroke-width="0.98" stroke-linejoin="round"/>
<circle cx="501.3" cy="510.8" r="1.5" fill="#111" stroke="none"/>
<circle cx="508.6" cy="514.6" r="1.5" fill="#111" stroke="none"/>
<circle cx="501.7" cy="519" r="1.5" fill="#111" stroke="none"/>
<circle cx="509.3" cy="523.2" r="1.5" fill="#111" stroke="none"/>
<ellipse cx="505.3" cy="516.8" rx="2.1" ry="2.7" transform="rotate(20 505.3 516.8)" fill="#fff" stroke="#161616" stroke-width="0.98"/>
<ellipse cx="556.3" cy="476.0" rx="3.2" ry="3.8" transform="rotate(20 556.3 476.0)" fill="#fff" stroke="#161616" stroke-width="1.10"/>
<ellipse cx="556.5" cy="475.8" rx="1.4" ry="1.9" transform="rotate(20 556.5 475.8)" fill="#fff" stroke="#161616" stroke-width="0.85"/>
<path d="M545.3 478.5L549.5 475.8L559.6 481.0L560.0 493.0L556.3 495.0L545.8 489.5Z" fill="#fff" stroke="#161616" stroke-width="1.22" stroke-linejoin="round"/>
<path d="M545.3 478.5L555.8 483.8L556.3 495.0" fill="none" stroke="#161616" stroke-width="0.98" stroke-linejoin="round"/>
<path d="M555.8 483.8L559.6 481.0" fill="none" stroke="#161616" stroke-width="0.98" stroke-linejoin="round"/>
<circle cx="547" cy="480.2" r="1.2" fill="#111" stroke="none"/>
<circle cx="554.4" cy="484" r="1.2" fill="#111" stroke="none"/>
<circle cx="547.3" cy="488.2" r="1.2" fill="#111" stroke="none"/>
<circle cx="554.8" cy="492.2" r="1.2" fill="#111" stroke="none"/>
<ellipse cx="563.2" cy="482.5" rx="3.7" ry="4.4" transform="rotate(20 563.2 482.5)" fill="#fff" stroke="#161616" stroke-width="1.22"/>
<ellipse cx="563.1" cy="482.6" rx="1.7" ry="2.4" transform="rotate(20 563.1 482.6)" fill="#fff" stroke="#161616" stroke-width="0.98"/>
<path d="M552.0 474.5L555.0 472.3L558.5 473.0" fill="none" stroke="#161616" stroke-width="0.98" stroke-linejoin="round"/>
<path d="M559.5 479.0L562.0 478.0" fill="none" stroke="#161616" stroke-width="0.98" stroke-linejoin="round"/>
</g>
<path d="M518.7 461.6L531.5 468.1L534.1 462.9L521.3 456.4Z" fill="#fff" stroke="#161616" stroke-width="1.10" stroke-linejoin="round"/>
<ellipse cx="532.8" cy="465.5" rx="1.3" ry="2.9" transform="rotate(26.922029607810355 532.8 465.5)" fill="#fff" stroke="#161616" stroke-width="1.10"/>
<path d="M511.4 457.3C510.4 453.3 513.4 451.8 515.4 453.8M512.9 457.8L512.4 454.3" stroke="#111" stroke-width="1.46" fill="none"/>
<path d="M537.1 471.8C536.1 467.8 539.1 466.3 541.1 468.3M538.6 472.3L538.1 468.8" stroke="#111" stroke-width="1.46" fill="none"/>
<path d="M426.7 524.1L439.2 531.4L442.2 526.4L429.7 519.1Z" fill="#fff" stroke="#161616" stroke-width="1.10" stroke-linejoin="round"/>
<ellipse cx="440.7" cy="528.9" rx="1.3" ry="2.9" transform="rotate(30.284928349402076 440.7 528.9)" fill="#fff" stroke="#161616" stroke-width="1.10"/>
<path d="M419.7 520.7C418.7 516.7 421.7 515.2 423.7 517.2M421.2 521.2L420.7 517.7" stroke="#111" stroke-width="1.46" fill="none"/>
<path d="M445.6 535.6C444.6 531.6 447.6 530.1 449.6 532.1M447.1 536.1L446.6 532.6" stroke="#111" stroke-width="1.46" fill="none"/>
<g transform="translate(-171.5 -100.5)">
<path d="M549.3 628.9C544.4 631.6 528.2 640.2 520.0 645.0C511.8 649.8 505.8 652.5 500.0 657.5C494.2 662.5 489.1 668.8 485.0 675.0C480.9 681.2 477.8 688.3 475.5 695.0C473.2 701.7 472.0 709.2 471.5 715.0C471.0 720.8 471.3 725.2 472.5 730.0C473.7 734.8 476.2 739.8 478.5 744.0C480.8 748.2 484.9 753.2 486.2 755.0L489.8 754.2C489.5 752.2 488.5 746.0 488.0 742.0C487.5 738.0 486.9 736.2 487.0 730.0C487.1 723.8 487.0 712.5 488.8 705.0C490.5 697.5 493.1 691.7 497.5 685.0C501.9 678.3 507.9 671.2 515.0 665.0C522.1 658.8 533.1 652.2 540.0 647.5C546.9 642.8 553.8 638.3 556.6 636.5C558.5 634 557.5 630.5 555 629C553 627.8 551 628 549.3 628.9Z" fill="#fff" stroke="#161616" stroke-width="1.10" stroke-linejoin="round"/>
<path d="M547.7 628.0C542.8 630.7 526.6 639.3 518.4 644.1C510.2 648.9 504.2 651.6 498.4 656.6C492.6 661.6 487.5 667.9 483.4 674.1C479.3 680.4 476.1 687.4 473.9 694.1C471.6 700.8 470.4 708.3 469.9 714.1C469.4 719.9 469.7 724.3 470.9 729.1C472.1 733.9 475.9 740.8 476.9 743.1" fill="none" stroke="#161616" stroke-width="0.85"/>
<ellipse cx="551.4" cy="635.3" rx="1.3" ry="1.8" transform="rotate(20 551.4 635.3)" fill="#fff" stroke="#161616" stroke-width="1.10"/>
<ellipse cx="551.6" cy="635.2" rx="4.3" ry="5.0" transform="rotate(20 551.6 635.2)" fill="#fff" stroke="#161616" stroke-width="1.22"/>
<ellipse cx="551.4" cy="635.3" rx="2.5" ry="3.0" transform="rotate(20 551.4 635.3)" fill="#fff" stroke="#161616" stroke-width="0.98"/>
<ellipse cx="551.4" cy="635.3" rx="1.3" ry="1.8" transform="rotate(20 551.4 635.3)" fill="#fff" stroke="#161616" stroke-width="1.10"/>
</g>
<g transform="translate(-110 -63.5)">
<path d="M450.0 618.8L458.8 612.5L520.0 645.0L512.5 653.8L501.5 659.0L450.0 630.0Z" fill="#fff" stroke="#161616" stroke-width="1.10" stroke-linejoin="round"/>
<path d="M450.0 618.8L512.5 653.8" fill="none" stroke="#161616" stroke-width="1.10" stroke-linejoin="round"/>
<path d="M450.7 621.3L511.3 655.8" fill="none" stroke="#161616" stroke-width="0.85" stroke-linejoin="round"/>
<path d="M411.2 685.0L418.8 676.2L472.5 706.2L471.2 730.0L412.5 697.5Z" fill="#fff" stroke="#161616" stroke-width="1.10" stroke-linejoin="round"/>
<path d="M411.2 685.0L470.0 717.5" fill="none" stroke="#161616" stroke-width="1.10" stroke-linejoin="round"/>
<path d="M411.3 688.6L470.3 721.3" fill="none" stroke="#161616" stroke-width="0.85" stroke-linejoin="round"/>
</g>
<g transform="translate(-47.4 -26.85)">
<path d="M410.5 639.2L486.4 593.4C490 591.3 494.5 593.5 495 597.5C495.3 600.3 494.5 602 493.2 603L470 616.3C452 627 437 641 430 655C425 665 423.5 676 424 690L425.3 717.3L420.3 717.8C412 702 402.5 682 400 660C399 650 399.5 643 401.5 637.5Z" fill="#fff" stroke="#161616" stroke-width="1.10" stroke-linejoin="round"/>
<path d="M412.3 640.6L487.5 595.3" stroke="#161616" stroke-width="0.85" fill="none"/>
<path d="M421.8 716C413.5 700 404.5 681 402 660C401 650 401.5 644 403.5 639" stroke="#161616" stroke-width="0.85" fill="none"/>
<ellipse cx="489.3" cy="598.6" rx="1.3" ry="1.8" transform="rotate(20 489.3 598.6)" fill="#fff" stroke="#161616" stroke-width="1.10"/>
<ellipse cx="406.3" cy="634.3" rx="4.6" ry="5.6" transform="rotate(25 406.3 634.3)" fill="#fff" stroke="#161616" stroke-width="1.22"/>
<ellipse cx="407.6" cy="633.6" rx="4.3" ry="5.2" transform="rotate(25 407.6 633.6)" fill="#fff" stroke="#161616" stroke-width="1.22"/>
<ellipse cx="407.8" cy="633.5" rx="2.6" ry="3.3" transform="rotate(25 407.8 633.5)" fill="#fff" stroke="#161616" stroke-width="0.98"/>
<ellipse cx="407.9" cy="633.5" rx="1.5" ry="2.1" transform="rotate(25 407.9 633.5)" fill="#fff" stroke="#161616" stroke-width="1.10"/>
</g>
<path d="M410.5 639.2L486.4 593.4C490 591.3 494.5 593.5 495 597.5C495.3 600.3 494.5 602 493.2 603L470 616.3C452 627 437 641 430 655C425 665 423.5 676 424 690L425.3 717.3L420.3 717.8C412 702 402.5 682 400 660C399 650 399.5 643 401.5 637.5Z" fill="#fff" stroke="#161616" stroke-width="1.10" stroke-linejoin="round"/>
<path d="M412.3 640.6L487.5 595.3" stroke="#161616" stroke-width="0.85" fill="none"/>
<path d="M421.8 716C413.5 700 404.5 681 402 660C401 650 401.5 644 403.5 639" stroke="#161616" stroke-width="0.85" fill="none"/>
<ellipse cx="489.3" cy="598.6" rx="1.3" ry="1.8" transform="rotate(20 489.3 598.6)" fill="#fff" stroke="#161616" stroke-width="1.10"/>
<ellipse cx="406.3" cy="634.3" rx="4.6" ry="5.6" transform="rotate(25 406.3 634.3)" fill="#fff" stroke="#161616" stroke-width="1.22"/>
<ellipse cx="407.6" cy="633.6" rx="4.3" ry="5.2" transform="rotate(25 407.6 633.6)" fill="#fff" stroke="#161616" stroke-width="1.22"/>
<ellipse cx="407.8" cy="633.5" rx="2.6" ry="3.3" transform="rotate(25 407.8 633.5)" fill="#fff" stroke="#161616" stroke-width="0.98"/>
<ellipse cx="407.9" cy="633.5" rx="1.5" ry="2.1" transform="rotate(25 407.9 633.5)" fill="#fff" stroke="#161616" stroke-width="1.10"/>
<path d="M450.0 618.8L458.8 612.5L520.0 645.0L512.5 653.8L501.5 659.0L450.0 630.0Z" fill="#fff" stroke="#161616" stroke-width="1.10" stroke-linejoin="round"/>
<path d="M450.0 618.8L512.5 653.8" fill="none" stroke="#161616" stroke-width="1.10" stroke-linejoin="round"/>
<path d="M450.7 621.3L511.3 655.8" fill="none" stroke="#161616" stroke-width="0.85" stroke-linejoin="round"/>
<path d="M411.2 685.0L418.8 676.2L472.5 706.2L471.2 730.0L412.5 697.5Z" fill="#fff" stroke="#161616" stroke-width="1.10" stroke-linejoin="round"/>
<path d="M411.2 685.0L470.0 717.5" fill="none" stroke="#161616" stroke-width="1.10" stroke-linejoin="round"/>
<path d="M411.3 688.6L470.3 721.3" fill="none" stroke="#161616" stroke-width="0.85" stroke-linejoin="round"/>
<path d="M549.3 628.9C544.4 631.6 528.2 640.2 520.0 645.0C511.8 649.8 505.8 652.5 500.0 657.5C494.2 662.5 489.1 668.8 485.0 675.0C480.9 681.2 477.8 688.3 475.5 695.0C473.2 701.7 472.0 709.2 471.5 715.0C471.0 720.8 471.3 725.2 472.5 730.0C473.7 734.8 476.2 739.8 478.5 744.0C480.8 748.2 484.9 753.2 486.2 755.0L489.8 754.2C489.5 752.2 488.5 746.0 488.0 742.0C487.5 738.0 486.9 736.2 487.0 730.0C487.1 723.8 487.0 712.5 488.8 705.0C490.5 697.5 493.1 691.7 497.5 685.0C501.9 678.3 507.9 671.2 515.0 665.0C522.1 658.8 533.1 652.2 540.0 647.5C546.9 642.8 553.8 638.3 556.6 636.5C558.5 634 557.5 630.5 555 629C553 627.8 551 628 549.3 628.9Z" fill="#fff" stroke="#161616" stroke-width="1.10" stroke-linejoin="round"/>
<path d="M547.7 628.0C542.8 630.7 526.6 639.3 518.4 644.1C510.2 648.9 504.2 651.6 498.4 656.6C492.6 661.6 487.5 667.9 483.4 674.1C479.3 680.4 476.1 687.4 473.9 694.1C471.6 700.8 470.4 708.3 469.9 714.1C469.4 719.9 469.7 724.3 470.9 729.1C472.1 733.9 475.9 740.8 476.9 743.1" fill="none" stroke="#161616" stroke-width="0.85"/>
<ellipse cx="551.4" cy="635.3" rx="1.3" ry="1.8" transform="rotate(20 551.4 635.3)" fill="#fff" stroke="#161616" stroke-width="1.10"/>
<path d="M629.5 448.5C627.6 450.4 620.5 456.2 618.0 460.0C615.5 463.8 616.2 466.4 614.5 471.5C612.8 476.6 610.4 483.8 607.5 490.8C604.6 497.8 600.5 506.8 597.0 513.5C593.5 520.2 590.6 525.2 586.5 531.0C582.4 536.8 577.8 542.7 572.5 548.5C567.2 554.3 560.2 561.2 555.0 566.0C549.8 570.8 544.9 574.3 541.0 577.5C537.1 580.7 533.3 583.8 531.8 585.0" fill="none" stroke="#161616" stroke-width="1.22"/>
<path d="M619.6 460.8C619.0 462.7 617.9 467.2 616.1 472.3C614.4 477.4 612.0 484.6 609.1 491.6C606.2 498.6 602.1 507.6 598.6 514.3C595.1 521.0 592.2 526.0 588.1 531.8C584.0 537.6 579.4 543.5 574.1 549.3C568.9 555.1 561.9 562.0 556.6 566.8C551.4 571.6 546.5 575.1 542.6 578.3C538.7 581.5 534.9 584.5 533.4 585.8" fill="none" stroke="#161616" stroke-width="0.98"/>
<path d="M618.8 486.4L623.5 479.6L636.6 514.1L630 519.2Z" fill="#fff" stroke="#161616" stroke-width="1.22" stroke-linejoin="round"/>
<path d="M622.2 480.8L635.1 513.5L630.6 517.8" fill="none" stroke="#161616" stroke-width="0.85" stroke-linejoin="round"/>
<path d="M608 508.5L613.6 501.2L622.5 523.5L616.4 528.2Z" fill="#fff" stroke="#161616" stroke-width="1.22" stroke-linejoin="round"/>
<path d="M612.3 502.4L621.0 522.9L617.0 526.8" fill="none" stroke="#161616" stroke-width="0.85" stroke-linejoin="round"/>
<path d="M597.2 526.3L602.8 519.4L608 530.5L601.9 536Z" fill="#fff" stroke="#161616" stroke-width="1.22" stroke-linejoin="round"/>
<path d="M601.5 520.6L606.5 529.9L602.5 534.6" fill="none" stroke="#161616" stroke-width="0.85" stroke-linejoin="round"/>
<path d="M656.0 463.9L844.0 571.4L838.0 593.5L646.5 484.0Z" fill="#fff" stroke="#161616" stroke-width="1.10" stroke-linejoin="round"/>
<path d="M656.0 463.8L842.0 570.2" fill="none" stroke="#161616" stroke-width="0.92" stroke-linejoin="round"/>
<path d="M656.0 464.7L842.0 571.1" fill="none" stroke="#161616" stroke-width="0.92" stroke-linejoin="round"/>
<path d="M656.0 465.5L842.0 571.9" fill="none" stroke="#161616" stroke-width="0.92" stroke-linejoin="round"/>
<path d="M656.0 466.4L842.0 572.8" fill="none" stroke="#161616" stroke-width="0.92" stroke-linejoin="round"/>
<path d="M645.0 472.0L838.0 582.4" fill="none" stroke="#161616" stroke-width="1.10" stroke-linejoin="round"/>
<path d="M645.0 474.4L838.0 584.8" fill="none" stroke="#161616" stroke-width="0.85" stroke-linejoin="round"/>
<path d="M645.0 481.3L838.0 591.7" fill="none" stroke="#161616" stroke-width="0.85" stroke-linejoin="round"/>
<path d="M645.0 483.3L838.0 593.7" fill="none" stroke="#161616" stroke-width="1.10" stroke-linejoin="round"/>
<path d="M641.0 509.5L647.5 504.5L652.5 507.5L652.5 513.0L647.5 520.0L642.0 514.0Z" fill="#fff" stroke="#161616" stroke-width="0.98" stroke-linejoin="round"/>
<path d="M641.0 509.5L652.0 510.0" fill="none" stroke="#161616" stroke-width="0.85" stroke-linejoin="round"/>
<path d="M642.0 514.0L651.5 514.5" fill="none" stroke="#161616" stroke-width="0.85" stroke-linejoin="round"/>
<path d="M641.5 511.8L652.0 512.2" fill="none" stroke="#161616" stroke-width="0.85" stroke-linejoin="round"/>
<path d="M656.2 523.0L662.0 516.7L665.7 519.0L665.7 525.5L661.0 530.0L657.0 525.5Z" fill="#fff" stroke="#161616" stroke-width="0.98" stroke-linejoin="round"/>
<path d="M656.2 523.0L665.2 521.5" fill="none" stroke="#161616" stroke-width="0.85" stroke-linejoin="round"/>
<path d="M657.0 525.5L664.7 527.0" fill="none" stroke="#161616" stroke-width="0.85" stroke-linejoin="round"/>
<path d="M656.6 524.2L665.2 524.2" fill="none" stroke="#161616" stroke-width="0.85" stroke-linejoin="round"/>
<path d="M668.4 530.0L674.1 523.7L677.9 526.0L677.9 532.5L673.1 537.0L669.1 532.5Z" fill="#fff" stroke="#161616" stroke-width="0.98" stroke-linejoin="round"/>
<path d="M668.4 530.0L677.4 528.5" fill="none" stroke="#161616" stroke-width="0.85" stroke-linejoin="round"/>
<path d="M669.1 532.5L676.9 534.0" fill="none" stroke="#161616" stroke-width="0.85" stroke-linejoin="round"/>
<path d="M668.8 531.2L677.4 531.2" fill="none" stroke="#161616" stroke-width="0.85" stroke-linejoin="round"/>
<path d="M680.5 536.9L686.3 530.6L690.0 532.9L690.0 539.4L685.3 543.9L681.3 539.4Z" fill="#fff" stroke="#161616" stroke-width="0.98" stroke-linejoin="round"/>
<path d="M680.5 536.9L689.5 535.4" fill="none" stroke="#161616" stroke-width="0.85" stroke-linejoin="round"/>
<path d="M681.3 539.4L689.0 540.9" fill="none" stroke="#161616" stroke-width="0.85" stroke-linejoin="round"/>
<path d="M680.9 538.2L689.5 538.2" fill="none" stroke="#161616" stroke-width="0.85" stroke-linejoin="round"/>
<path d="M692.7 543.9L698.5 537.6L702.2 539.9L702.2 546.4L697.5 550.9L693.5 546.4Z" fill="#fff" stroke="#161616" stroke-width="0.98" stroke-linejoin="round"/>
<path d="M692.7 543.9L701.7 542.4" fill="none" stroke="#161616" stroke-width="0.85" stroke-linejoin="round"/>
<path d="M693.5 546.4L701.2 547.9" fill="none" stroke="#161616" stroke-width="0.85" stroke-linejoin="round"/>
<path d="M693.1 545.2L701.7 545.2" fill="none" stroke="#161616" stroke-width="0.85" stroke-linejoin="round"/>
<path d="M704.9 550.9L710.6 544.6L714.3 546.9L714.3 553.4L709.6 557.9L705.6 553.4Z" fill="#fff" stroke="#161616" stroke-width="0.98" stroke-linejoin="round"/>
<path d="M704.9 550.9L713.8 549.4" fill="none" stroke="#161616" stroke-width="0.85" stroke-linejoin="round"/>
<path d="M705.6 553.4L713.3 554.9" fill="none" stroke="#161616" stroke-width="0.85" stroke-linejoin="round"/>
<path d="M705.2 552.1L713.8 552.1" fill="none" stroke="#161616" stroke-width="0.85" stroke-linejoin="round"/>
<path d="M717.0 557.9L722.8 551.6L726.5 553.9L726.5 560.4L721.8 564.9L717.8 560.4Z" fill="#fff" stroke="#161616" stroke-width="0.98" stroke-linejoin="round"/>
<path d="M717.0 557.9L726.0 556.4" fill="none" stroke="#161616" stroke-width="0.85" stroke-linejoin="round"/>
<path d="M717.8 560.4L725.5 561.9" fill="none" stroke="#161616" stroke-width="0.85" stroke-linejoin="round"/>
<path d="M717.4 559.1L726.0 559.1" fill="none" stroke="#161616" stroke-width="0.85" stroke-linejoin="round"/>
<path d="M729.1 564.8L734.9 558.5L738.6 560.8L738.6 567.3L733.9 571.8L729.9 567.3Z" fill="#fff" stroke="#161616" stroke-width="0.98" stroke-linejoin="round"/>
<path d="M729.1 564.8L738.1 563.3" fill="none" stroke="#161616" stroke-width="0.85" stroke-linejoin="round"/>
<path d="M729.9 567.3L737.6 568.8" fill="none" stroke="#161616" stroke-width="0.85" stroke-linejoin="round"/>
<path d="M729.5 566.1L738.1 566.1" fill="none" stroke="#161616" stroke-width="0.85" stroke-linejoin="round"/>
<path d="M741.3 571.8L747.0 565.5L750.8 567.8L750.8 574.3L746.0 578.8L742.0 574.3Z" fill="#fff" stroke="#161616" stroke-width="0.98" stroke-linejoin="round"/>
<path d="M741.3 571.8L750.2 570.3" fill="none" stroke="#161616" stroke-width="0.85" stroke-linejoin="round"/>
<path d="M742.0 574.3L749.8 575.8" fill="none" stroke="#161616" stroke-width="0.85" stroke-linejoin="round"/>
<path d="M741.7 573.0L750.2 573.0" fill="none" stroke="#161616" stroke-width="0.85" stroke-linejoin="round"/>
<path d="M753.5 578.8L759.2 572.5L762.9 574.8L762.9 581.3L758.2 585.8L754.2 581.3Z" fill="#fff" stroke="#161616" stroke-width="0.98" stroke-linejoin="round"/>
<path d="M753.5 578.8L762.4 577.3" fill="none" stroke="#161616" stroke-width="0.85" stroke-linejoin="round"/>
<path d="M754.2 581.3L761.9 582.8" fill="none" stroke="#161616" stroke-width="0.85" stroke-linejoin="round"/>
<path d="M753.8 580.0L762.4 580.0" fill="none" stroke="#161616" stroke-width="0.85" stroke-linejoin="round"/>
<path d="M765.6 585.7L771.4 579.4L775.1 581.7L775.1 588.2L770.4 592.7L766.4 588.2Z" fill="#fff" stroke="#161616" stroke-width="0.98" stroke-linejoin="round"/>
<path d="M765.6 585.7L774.6 584.2" fill="none" stroke="#161616" stroke-width="0.85" stroke-linejoin="round"/>
<path d="M766.4 588.2L774.1 589.7" fill="none" stroke="#161616" stroke-width="0.85" stroke-linejoin="round"/>
<path d="M766.0 587.0L774.6 587.0" fill="none" stroke="#161616" stroke-width="0.85" stroke-linejoin="round"/>
<path d="M777.8 592.7L783.5 586.4L787.2 588.7L787.2 595.2L782.5 599.7L778.5 595.2Z" fill="#fff" stroke="#161616" stroke-width="0.98" stroke-linejoin="round"/>
<path d="M777.8 592.7L786.7 591.2" fill="none" stroke="#161616" stroke-width="0.85" stroke-linejoin="round"/>
<path d="M778.5 595.2L786.2 596.7" fill="none" stroke="#161616" stroke-width="0.85" stroke-linejoin="round"/>
<path d="M778.1 594.0L786.7 594.0" fill="none" stroke="#161616" stroke-width="0.85" stroke-linejoin="round"/>
<path d="M789.9 599.7L795.6 593.4L799.4 595.7L799.4 602.2L794.6 606.7L790.6 602.2Z" fill="#fff" stroke="#161616" stroke-width="0.98" stroke-linejoin="round"/>
<path d="M789.9 599.7L798.9 598.2" fill="none" stroke="#161616" stroke-width="0.85" stroke-linejoin="round"/>
<path d="M790.6 602.2L798.4 603.7" fill="none" stroke="#161616" stroke-width="0.85" stroke-linejoin="round"/>
<path d="M790.3 600.9L798.9 600.9" fill="none" stroke="#161616" stroke-width="0.85" stroke-linejoin="round"/>
<path d="M802.0 606.6L807.8 600.3L811.5 602.6L811.5 609.1L806.8 613.6L802.8 609.1Z" fill="#fff" stroke="#161616" stroke-width="0.98" stroke-linejoin="round"/>
<path d="M802.0 606.6L811.0 605.1" fill="none" stroke="#161616" stroke-width="0.85" stroke-linejoin="round"/>
<path d="M802.8 609.1L810.5 610.6" fill="none" stroke="#161616" stroke-width="0.85" stroke-linejoin="round"/>
<path d="M802.4 607.9L811.0 607.9" fill="none" stroke="#161616" stroke-width="0.85" stroke-linejoin="round"/>
<path d="M814.2 613.6L820.0 607.3L823.7 609.6L823.7 616.1L819.0 620.6L815.0 616.1Z" fill="#fff" stroke="#161616" stroke-width="0.98" stroke-linejoin="round"/>
<path d="M814.2 613.6L823.2 612.1" fill="none" stroke="#161616" stroke-width="0.85" stroke-linejoin="round"/>
<path d="M815.0 616.1L822.7 617.6" fill="none" stroke="#161616" stroke-width="0.85" stroke-linejoin="round"/>
<path d="M814.6 614.9L823.2 614.9" fill="none" stroke="#161616" stroke-width="0.85" stroke-linejoin="round"/>
<path d="M826.4 620.6L832.1 614.3L835.8 616.6L835.8 623.1L831.1 627.6L827.1 623.1Z" fill="#fff" stroke="#161616" stroke-width="0.98" stroke-linejoin="round"/>
<path d="M826.4 620.6L835.3 619.1" fill="none" stroke="#161616" stroke-width="0.85" stroke-linejoin="round"/>
<path d="M827.1 623.1L834.8 624.6" fill="none" stroke="#161616" stroke-width="0.85" stroke-linejoin="round"/>
<path d="M826.7 621.8L835.3 621.8" fill="none" stroke="#161616" stroke-width="0.85" stroke-linejoin="round"/>
<path d="M531.7 584.6L533.0 583.2L557.0 572.5L565.9 578.0L557.6 585.3" fill="none" stroke="#161616" stroke-width="1.10" stroke-linejoin="round"/>
<path d="M539.6 588.1L552.9 584.0C556.1 583.8 558.8 584.2 557.8 585.2C557.2 586.4 557.0 587.1 556.0 587.1L540.6 590.9" fill="none" stroke="#161616" stroke-width="1.10"/>
<path d="M533.0 583.2C532.7 583.5 531.6 584.5 531.3 585.2C531.0 585.9 531.0 586.9 531.4 587.6C531.8 588.3 532.4 589.2 533.5 589.6C534.6 590.0 537.2 589.8 538.0 589.8" fill="none" stroke="#161616" stroke-width="1.22"/>
<path d="M538.6 585.9C538.4 586.2 537.7 587.1 537.6 587.7C537.5 588.4 537.7 589.3 538.0 589.7C538.2 590.2 539.1 590.2 539.4 590.3" fill="none" stroke="#161616" stroke-width="0.85"/>
<path d="M557.0 572.5C562.8 570.4 583.1 563.6 591.9 559.5C600.6 555.4 604.3 551.3 609.4 548.0C614.4 544.8 617.5 542.8 622.4 540.0C627.2 537.2 634.5 533.9 638.8 531.3C643.0 528.6 645.6 527.4 647.9 524.0C650.1 520.7 652.2 515.4 652.4 511.3C652.5 507.2 650.1 503.7 648.6 499.5C647.0 495.4 644.0 488.7 643.1 486.5" fill="none" stroke="#161616" stroke-width="0.98"/>
<path d="M550.5 592.2C553.1 589.8 561.2 582.0 565.9 578.0C570.5 574.1 574.0 571.6 578.4 568.5C582.7 565.4 589.6 561.0 591.9 559.5" fill="none" stroke="#161616" stroke-width="0.98"/>
<path d="M551.4 593.2C554.0 590.8 562.1 583.0 566.8 579.0C571.4 575.1 574.9 572.6 579.2 569.5C583.6 566.4 590.5 562.0 592.8 560.5" fill="none" stroke="#161616" stroke-width="0.85"/>
<path d="M552.3 594.2C554.9 591.8 563.0 584.0 567.6 580.0C572.3 576.1 578.1 572.1 580.1 570.5" fill="none" stroke="#161616" stroke-width="0.73"/>
<path d="M591.9 559.5L592.9 563.5" fill="none" stroke="#161616" stroke-width="0.98" stroke-linejoin="round"/>
<path d="M592.9 563.5C595.8 561.5 605.2 554.9 610.4 551.5C615.5 548.2 618.9 546.4 623.9 543.5C628.8 540.7 635.5 537.4 639.9 534.5C644.2 531.7 647.6 530.4 650.1 526.5C652.7 522.7 654.8 516.0 655.0 511.5C655.1 507.0 652.7 503.6 651.1 499.5C649.6 495.4 646.6 489.1 645.6 487.0" fill="none" stroke="#161616" stroke-width="0.98"/>
<path d="M593.1 564.7C596.1 562.7 605.5 556.1 610.6 552.7C615.8 549.4 619.2 547.6 624.1 544.7C629.1 541.9 637.5 537.2 640.1 535.7" fill="none" stroke="#161616" stroke-width="0.73"/>
<path d="M548.1 593.7L549.3 592.1L573.0 582.5L578.0 585.0L569.8 592.3" fill="none" stroke="#161616" stroke-width="1.10" stroke-linejoin="round"/>
<path d="M551.7 595.1L565.0 591.0C568.3 590.8 570.9 591.2 569.9 592.2C569.4 593.4 569.1 594.1 568.1 594.1L552.7 597.9" fill="none" stroke="#161616" stroke-width="1.10"/>
<path d="M549.3 592.1C549.0 592.4 548.0 593.2 547.7 594.0C547.4 594.8 547.4 595.9 547.7 596.7C548.0 597.5 548.7 598.5 549.5 598.7C550.3 598.9 552.2 598.0 552.7 597.9" fill="none" stroke="#161616" stroke-width="1.22"/>
<path d="M550.7 592.9C550.5 593.2 549.8 594.1 549.7 594.7C549.6 595.3 549.8 596.3 550.1 596.7C550.4 597.1 551.3 597.2 551.5 597.3" fill="none" stroke="#161616" stroke-width="0.85"/>
<path d="M573.0 582.5C578.2 579.8 595.9 571.1 604.0 566.5C612.1 561.9 616.4 558.2 621.5 555.0C626.6 551.8 629.6 549.8 634.5 547.0C639.4 544.2 646.6 540.9 650.9 538.2C655.1 535.6 657.7 534.0 660.0 531.0C662.3 528.0 664.1 523.6 664.5 520.0C664.9 516.4 663.8 513.6 662.5 509.5C661.2 505.4 658.4 499.8 656.5 495.5C654.6 491.2 652.1 485.9 651.2 484.0" fill="none" stroke="#161616" stroke-width="0.98"/>
<path d="M562.6 599.2C565.2 596.8 573.4 588.9 578.0 585.0C582.6 581.1 586.2 578.6 590.5 575.5C594.8 572.4 601.8 568.0 604.0 566.5" fill="none" stroke="#161616" stroke-width="0.98"/>
<path d="M563.5 600.2C566.1 597.8 574.3 589.9 578.9 586.0C583.5 582.1 587.1 579.6 591.4 576.5C595.7 573.4 602.6 569.0 604.9 567.5" fill="none" stroke="#161616" stroke-width="0.85"/>
<path d="M564.4 601.2C567.0 598.8 575.2 590.9 579.8 587.0C584.4 583.1 590.2 579.1 592.3 577.5" fill="none" stroke="#161616" stroke-width="0.73"/>
<path d="M604.0 566.5L605.0 570.5" fill="none" stroke="#161616" stroke-width="0.98" stroke-linejoin="round"/>
<path d="M605.0 570.5C607.9 568.5 617.3 561.8 622.5 558.5C627.7 555.2 631.1 553.3 636.0 550.5C640.9 547.7 647.6 544.3 652.0 541.5C656.4 538.7 659.8 537.0 662.3 533.5C664.8 530.0 666.7 524.5 667.2 520.5C667.7 516.5 666.6 513.7 665.2 509.5C663.9 505.3 661.0 499.6 659.1 495.5C657.2 491.4 654.8 486.8 653.9 485.0" fill="none" stroke="#161616" stroke-width="0.98"/>
<path d="M605.3 571.7C608.2 569.7 617.6 563.0 622.8 559.7C628.0 556.4 631.4 554.5 636.3 551.7C641.2 548.9 649.6 544.2 652.3 542.7" fill="none" stroke="#161616" stroke-width="0.73"/>
<path d="M560.2 600.7L561.4 599.1L585.1 589.5L590.1 592.0L581.9 599.3" fill="none" stroke="#161616" stroke-width="1.10" stroke-linejoin="round"/>
<path d="M563.9 602.1L577.1 598.0C580.4 597.8 583.0 598.2 582.0 599.2C581.5 600.4 581.2 601.1 580.2 601.1L564.9 604.9" fill="none" stroke="#161616" stroke-width="1.10"/>
<path d="M561.4 599.1C561.2 599.4 560.1 600.2 559.9 601.0C559.6 601.7 559.6 602.9 559.9 603.7C560.1 604.5 560.8 605.5 561.6 605.7C562.5 605.9 564.3 605.0 564.9 604.9" fill="none" stroke="#161616" stroke-width="1.22"/>
<path d="M562.9 599.9C562.7 600.2 562.0 601.0 561.9 601.7C561.8 602.3 562.0 603.2 562.2 603.7C562.5 604.1 563.4 604.2 563.6 604.3" fill="none" stroke="#161616" stroke-width="0.85"/>
<path d="M585.1 589.5C590.3 586.8 608.1 578.1 616.1 573.5C624.2 568.9 628.6 565.2 633.6 562.0C638.7 558.7 641.8 556.8 646.6 554.0C651.5 551.2 658.8 547.9 663.0 545.2C667.3 542.6 669.9 541.0 672.1 538.0C674.4 534.9 676.2 530.6 676.6 527.0C677.1 523.4 676.0 520.6 674.6 516.5C673.3 512.4 670.5 506.7 668.6 502.5C666.8 498.2 664.2 492.9 663.4 491.0" fill="none" stroke="#161616" stroke-width="0.98"/>
<path d="M574.8 606.1C577.4 603.8 585.5 595.9 590.1 592.0C594.8 588.0 598.3 585.6 602.6 582.5C607.0 579.4 613.9 575.0 616.1 573.5" fill="none" stroke="#161616" stroke-width="0.98"/>
<path d="M575.7 607.1C578.3 604.8 586.4 596.9 591.0 593.0C595.7 589.0 599.2 586.6 603.5 583.5C607.9 580.4 614.8 576.0 617.0 574.5" fill="none" stroke="#161616" stroke-width="0.85"/>
<path d="M576.6 608.1C579.2 605.8 587.3 597.9 591.9 594.0C596.6 590.0 602.4 586.1 604.4 584.5" fill="none" stroke="#161616" stroke-width="0.73"/>
<path d="M616.1 573.5L617.1 577.5" fill="none" stroke="#161616" stroke-width="0.98" stroke-linejoin="round"/>
<path d="M617.1 577.5C620.1 575.5 629.5 568.8 634.6 565.5C639.8 562.1 643.2 560.3 648.1 557.5C653.1 554.6 659.8 551.3 664.1 548.5C668.5 545.6 671.9 544.0 674.4 540.5C677.0 537.0 678.9 531.5 679.4 527.5C679.8 523.5 678.7 520.6 677.4 516.5C676.0 512.3 673.1 506.6 671.2 502.5C669.4 498.4 666.9 493.7 666.0 492.0" fill="none" stroke="#161616" stroke-width="0.98"/>
<path d="M617.4 578.7C620.4 576.7 629.8 570.0 634.9 566.7C640.1 563.3 643.5 561.5 648.4 558.7C653.4 555.8 661.8 551.2 664.4 549.7" fill="none" stroke="#161616" stroke-width="0.73"/>
<path d="M572.4 607.6L573.6 606.0L597.3 596.4L602.3 598.9L594.1 606.2" fill="none" stroke="#161616" stroke-width="1.10" stroke-linejoin="round"/>
<path d="M576.0 609.0L589.3 604.9C592.6 604.7 595.2 605.1 594.2 606.1C593.7 607.3 593.4 608.0 592.4 608.0L577.0 611.8" fill="none" stroke="#161616" stroke-width="1.10"/>
<path d="M573.6 606.0C573.3 606.4 572.3 607.2 572.0 607.9C571.7 608.7 571.7 609.9 572.0 610.6C572.3 611.4 573.0 612.4 573.8 612.6C574.6 612.8 576.5 612.0 577.0 611.8" fill="none" stroke="#161616" stroke-width="1.22"/>
<path d="M575.0 606.8C574.8 607.1 574.1 608.0 574.0 608.6C573.9 609.3 574.1 610.2 574.4 610.6C574.7 611.1 575.6 611.1 575.8 611.2" fill="none" stroke="#161616" stroke-width="0.85"/>
<path d="M597.3 596.4C602.5 593.8 620.2 585.0 628.3 580.4C636.4 575.9 640.7 572.2 645.8 568.9C650.9 565.7 653.9 563.7 658.8 560.9C663.7 558.1 670.9 554.9 675.2 552.2C679.4 549.5 682.0 548.0 684.3 544.9C686.6 541.9 688.4 537.5 688.8 533.9C689.2 530.4 688.1 527.5 686.8 523.4C685.5 519.4 682.7 513.7 680.8 509.4C678.9 505.2 676.4 499.9 675.5 497.9" fill="none" stroke="#161616" stroke-width="0.98"/>
<path d="M586.9 613.1C589.5 610.7 597.7 602.9 602.3 598.9C606.9 595.0 610.5 592.5 614.8 589.4C619.1 586.4 626.0 581.9 628.3 580.4" fill="none" stroke="#161616" stroke-width="0.98"/>
<path d="M587.8 614.1C590.4 611.7 598.6 603.9 603.2 599.9C607.8 596.0 611.4 593.5 615.7 590.4C620.0 587.4 626.9 582.9 629.2 581.4" fill="none" stroke="#161616" stroke-width="0.85"/>
<path d="M588.7 615.1C591.3 612.7 599.5 604.9 604.1 600.9C608.7 597.0 614.5 593.0 616.6 591.4" fill="none" stroke="#161616" stroke-width="0.73"/>
<path d="M628.3 580.4L629.3 584.4" fill="none" stroke="#161616" stroke-width="0.98" stroke-linejoin="round"/>
<path d="M629.3 584.4C632.2 582.4 641.6 575.8 646.8 572.4C652.0 569.1 655.4 567.3 660.3 564.4C665.2 561.6 671.9 558.3 676.3 555.4C680.7 552.6 684.1 550.9 686.6 547.4C689.1 543.9 691.0 538.4 691.5 534.4C692.0 530.4 690.9 527.6 689.5 523.4C688.1 519.3 685.3 513.5 683.4 509.4C681.5 505.4 679.1 500.7 678.2 498.9" fill="none" stroke="#161616" stroke-width="0.98"/>
<path d="M629.6 585.6C632.5 583.6 641.9 577.0 647.1 573.6C652.3 570.3 655.7 568.5 660.6 565.6C665.5 562.8 673.9 558.1 676.6 556.6" fill="none" stroke="#161616" stroke-width="0.73"/>
<path d="M584.6 614.6L585.8 613.0L609.5 603.4L614.5 605.9L606.2 613.2" fill="none" stroke="#161616" stroke-width="1.10" stroke-linejoin="round"/>
<path d="M588.2 616.0L601.5 611.9C604.8 611.7 607.4 612.1 606.4 613.1C605.9 614.3 605.6 615.0 604.6 615.0L589.2 618.8" fill="none" stroke="#161616" stroke-width="1.10"/>
<path d="M585.8 613.0C585.5 613.3 584.4 614.1 584.2 614.9C583.9 615.7 583.9 616.8 584.2 617.6C584.5 618.4 585.1 619.4 586.0 619.6C586.8 619.8 588.6 618.9 589.2 618.8" fill="none" stroke="#161616" stroke-width="1.22"/>
<path d="M587.2 613.8C587.0 614.1 586.3 615.0 586.2 615.6C586.1 616.2 586.3 617.2 586.6 617.6C586.9 618.0 587.7 618.1 588.0 618.2" fill="none" stroke="#161616" stroke-width="0.85"/>
<path d="M609.5 603.4C614.6 600.7 632.4 592.0 640.5 587.4C648.5 582.8 652.9 579.2 658.0 575.9C663.0 572.7 666.1 570.7 671.0 567.9C675.9 565.1 683.1 561.8 687.4 559.2C691.6 556.5 694.2 555.0 696.5 551.9C698.7 548.9 700.5 544.5 701.0 540.9C701.4 537.3 700.3 534.5 699.0 530.4C697.6 526.3 694.8 520.7 693.0 516.4C691.1 512.2 688.5 506.8 687.7 504.9" fill="none" stroke="#161616" stroke-width="0.98"/>
<path d="M599.1 620.1C601.7 617.7 609.8 609.9 614.5 605.9C619.1 602.0 622.6 599.5 627.0 596.4C631.3 593.3 638.2 588.9 640.5 587.4" fill="none" stroke="#161616" stroke-width="0.98"/>
<path d="M600.0 621.1C602.6 618.7 610.7 610.9 615.4 606.9C620.0 603.0 623.5 600.5 627.9 597.4C632.2 594.3 639.1 589.9 641.4 588.4" fill="none" stroke="#161616" stroke-width="0.85"/>
<path d="M600.9 622.1C603.5 619.7 611.6 611.9 616.2 607.9C620.9 604.0 626.7 600.0 628.8 598.4" fill="none" stroke="#161616" stroke-width="0.73"/>
<path d="M640.5 587.4L641.5 591.4" fill="none" stroke="#161616" stroke-width="0.98" stroke-linejoin="round"/>
<path d="M641.5 591.4C644.4 589.4 653.8 582.7 659.0 579.4C664.1 576.1 667.5 574.2 672.5 571.4C677.4 568.6 684.1 565.2 688.5 562.4C692.8 559.6 696.2 557.9 698.8 554.4C701.3 550.9 703.2 545.4 703.7 541.4C704.1 537.4 703.0 534.6 701.7 530.4C700.3 526.2 697.4 520.5 695.6 516.4C693.7 512.3 691.2 507.7 690.4 505.9" fill="none" stroke="#161616" stroke-width="0.98"/>
<path d="M641.8 592.6C644.7 590.6 654.1 583.9 659.2 580.6C664.4 577.3 667.8 575.4 672.8 572.6C677.7 569.8 686.1 565.1 688.8 563.6" fill="none" stroke="#161616" stroke-width="0.73"/>
<path d="M596.7 621.6L597.9 620.0L621.6 610.4L626.6 612.9L618.4 620.2" fill="none" stroke="#161616" stroke-width="1.10" stroke-linejoin="round"/>
<path d="M600.3 623.0L613.6 618.9C616.9 618.7 619.5 619.1 618.5 620.1C618.0 621.3 617.7 622.0 616.7 622.0L601.3 625.8" fill="none" stroke="#161616" stroke-width="1.10"/>
<path d="M597.9 620.0C597.6 620.3 596.6 621.1 596.3 621.9C596.0 622.6 596.0 623.8 596.3 624.6C596.6 625.4 597.3 626.4 598.1 626.6C598.9 626.8 600.8 625.9 601.3 625.8" fill="none" stroke="#161616" stroke-width="1.22"/>
<path d="M599.3 620.8C599.1 621.1 598.4 621.9 598.3 622.6C598.2 623.2 598.4 624.1 598.7 624.6C599.0 625.0 599.9 625.1 600.1 625.2" fill="none" stroke="#161616" stroke-width="0.85"/>
<path d="M621.6 610.4C626.8 607.7 644.5 599.0 652.6 594.4C660.7 589.8 665.0 586.1 670.1 582.9C675.2 579.6 678.2 577.7 683.1 574.9C688.0 572.1 695.2 568.8 699.5 566.1C703.8 563.5 706.3 561.9 708.6 558.9C710.9 555.8 712.7 551.5 713.1 547.9C713.5 544.3 712.4 541.5 711.1 537.4C709.8 533.3 707.0 527.6 705.1 523.4C703.2 519.1 700.7 513.8 699.8 511.9" fill="none" stroke="#161616" stroke-width="0.98"/>
<path d="M611.2 627.0C613.8 624.7 622.0 616.8 626.6 612.9C631.2 608.9 634.8 606.5 639.1 603.4C643.4 600.3 650.4 595.9 652.6 594.4" fill="none" stroke="#161616" stroke-width="0.98"/>
<path d="M612.1 628.0C614.7 625.7 622.9 617.8 627.5 613.9C632.1 609.9 635.7 607.5 640.0 604.4C644.3 601.3 651.2 596.9 653.5 595.4" fill="none" stroke="#161616" stroke-width="0.85"/>
<path d="M613.0 629.0C615.6 626.7 623.8 618.8 628.4 614.9C633.0 610.9 638.8 607.0 640.9 605.4" fill="none" stroke="#161616" stroke-width="0.73"/>
<path d="M652.6 594.4L653.6 598.4" fill="none" stroke="#161616" stroke-width="0.98" stroke-linejoin="round"/>
<path d="M653.6 598.4C656.5 596.4 665.9 589.7 671.1 586.4C676.3 583.0 679.7 581.2 684.6 578.4C689.5 575.5 696.2 572.2 700.6 569.4C705.0 566.5 708.4 564.9 710.9 561.4C713.4 557.9 715.3 552.4 715.8 548.4C716.3 544.4 715.2 541.5 713.8 537.4C712.5 533.2 709.6 527.5 707.7 523.4C705.8 519.3 703.4 514.6 702.5 512.9" fill="none" stroke="#161616" stroke-width="0.98"/>
<path d="M653.9 599.6C656.8 597.6 666.2 590.9 671.4 587.6C676.6 584.2 680.0 582.4 684.9 579.6C689.8 576.7 698.2 572.1 700.9 570.6" fill="none" stroke="#161616" stroke-width="0.73"/>
<path d="M608.9 628.6L610.0 627.0L633.8 617.4L638.8 619.9L630.5 627.1" fill="none" stroke="#161616" stroke-width="1.10" stroke-linejoin="round"/>
<path d="M612.5 630.0L625.8 625.9C629.0 625.6 631.6 626.1 630.6 627.1C630.1 628.3 629.9 629.0 628.9 629.0L613.5 632.8" fill="none" stroke="#161616" stroke-width="1.10"/>
<path d="M610.0 627.0C609.8 627.3 608.7 628.1 608.5 628.9C608.2 629.6 608.2 630.8 608.5 631.6C608.8 632.3 609.4 633.4 610.2 633.6C611.1 633.8 612.9 632.9 613.5 632.8" fill="none" stroke="#161616" stroke-width="1.22"/>
<path d="M611.5 627.8C611.3 628.0 610.6 628.9 610.5 629.6C610.4 630.2 610.6 631.1 610.9 631.6C611.1 632.0 612.0 632.0 612.2 632.1" fill="none" stroke="#161616" stroke-width="0.85"/>
<path d="M633.8 617.4C638.9 614.7 656.7 605.9 664.8 601.4C672.8 596.8 677.2 593.1 682.2 589.9C687.3 586.6 690.4 584.6 695.2 581.9C700.1 579.1 707.4 575.8 711.6 573.1C715.9 570.4 718.5 568.9 720.8 565.9C723.0 562.8 724.8 558.4 725.2 554.9C725.7 551.3 724.6 548.4 723.2 544.4C721.9 540.3 719.1 534.6 717.2 530.4C715.4 526.1 712.8 520.8 712.0 518.9" fill="none" stroke="#161616" stroke-width="0.98"/>
<path d="M623.4 634.0C626.0 631.7 634.1 623.8 638.8 619.9C643.4 615.9 646.9 613.4 651.2 610.4C655.6 607.3 662.5 602.9 664.8 601.4" fill="none" stroke="#161616" stroke-width="0.98"/>
<path d="M624.3 635.0C626.9 632.7 635.0 624.8 639.6 620.9C644.3 616.9 647.8 614.4 652.1 611.4C656.5 608.3 663.4 603.9 665.6 602.4" fill="none" stroke="#161616" stroke-width="0.85"/>
<path d="M625.2 636.0C627.8 633.7 635.9 625.8 640.5 621.9C645.2 617.9 651.0 613.9 653.0 612.4" fill="none" stroke="#161616" stroke-width="0.73"/>
<path d="M664.8 601.4L665.8 605.4" fill="none" stroke="#161616" stroke-width="0.98" stroke-linejoin="round"/>
<path d="M665.8 605.4C668.7 603.4 678.1 596.7 683.2 593.4C688.4 590.0 691.8 588.2 696.8 585.4C701.7 582.5 708.4 579.2 712.8 576.4C717.1 573.5 720.5 571.9 723.0 568.4C725.6 564.9 727.5 559.4 728.0 555.4C728.4 551.4 727.3 548.5 726.0 544.4C724.6 540.2 721.7 534.4 719.9 530.4C718.0 526.3 715.5 521.6 714.6 519.9" fill="none" stroke="#161616" stroke-width="0.98"/>
<path d="M666.0 606.6C669.0 604.6 678.4 597.9 683.5 594.6C688.7 591.2 692.1 589.4 697.0 586.6C702.0 583.7 710.4 579.1 713.0 577.6" fill="none" stroke="#161616" stroke-width="0.73"/>
<path d="M621.0 635.5L622.2 633.9L645.9 624.3L650.9 626.8L642.7 634.1" fill="none" stroke="#161616" stroke-width="1.10" stroke-linejoin="round"/>
<path d="M624.6 636.9L637.9 632.8C641.2 632.6 643.8 633.0 642.8 634.0C642.3 635.2 642.0 635.9 641.0 635.9L625.6 639.7" fill="none" stroke="#161616" stroke-width="1.10"/>
<path d="M622.2 633.9C621.9 634.2 620.9 635.1 620.6 635.8C620.3 636.6 620.3 637.7 620.6 638.5C620.9 639.3 621.6 640.3 622.4 640.5C623.2 640.7 625.1 639.9 625.6 639.7" fill="none" stroke="#161616" stroke-width="1.22"/>
<path d="M623.6 634.7C623.4 635.0 622.7 635.9 622.6 636.5C622.5 637.2 622.7 638.1 623.0 638.5C623.3 639.0 624.2 639.0 624.4 639.1" fill="none" stroke="#161616" stroke-width="0.85"/>
<path d="M645.9 624.3C651.1 621.7 668.8 612.9 676.9 608.3C685.0 603.7 689.3 600.1 694.4 596.8C699.5 593.6 702.5 591.6 707.4 588.8C712.3 586.0 719.5 582.7 723.8 580.1C728.0 577.4 730.6 575.9 732.9 572.8C735.2 569.8 737.0 565.4 737.4 561.8C737.8 558.2 736.7 555.4 735.4 551.3C734.1 547.2 731.3 541.6 729.4 537.3C727.5 533.1 725.0 527.7 724.1 525.8" fill="none" stroke="#161616" stroke-width="0.98"/>
<path d="M635.5 641.0C638.1 638.6 646.3 630.8 650.9 626.8C655.5 622.9 659.1 620.4 663.4 617.3C667.7 614.2 674.6 609.8 676.9 608.3" fill="none" stroke="#161616" stroke-width="0.98"/>
<path d="M636.4 642.0C639.0 639.6 647.2 631.8 651.8 627.8C656.4 623.9 660.0 621.4 664.3 618.3C668.6 615.2 675.5 610.8 677.8 609.3" fill="none" stroke="#161616" stroke-width="0.85"/>
<path d="M637.3 643.0C639.9 640.6 648.1 632.8 652.7 628.8C657.3 624.9 663.1 620.9 665.2 619.3" fill="none" stroke="#161616" stroke-width="0.73"/>
<path d="M676.9 608.3L677.9 612.3" fill="none" stroke="#161616" stroke-width="0.98" stroke-linejoin="round"/>
<path d="M677.9 612.3C680.8 610.3 690.2 603.7 695.4 600.3C700.6 597.0 704.0 595.2 708.9 592.3C713.8 589.5 720.5 586.2 724.9 583.3C729.3 580.5 732.7 578.8 735.2 575.3C737.7 571.8 739.6 566.3 740.1 562.3C740.6 558.3 739.5 555.5 738.1 551.3C736.8 547.2 733.9 541.4 732.0 537.3C730.1 533.2 727.7 528.6 726.8 526.8" fill="none" stroke="#161616" stroke-width="0.98"/>
<path d="M678.2 613.5C681.1 611.5 690.5 604.9 695.7 601.5C700.9 598.2 704.3 596.4 709.2 593.5C714.1 590.7 722.5 586.0 725.2 584.5" fill="none" stroke="#161616" stroke-width="0.73"/>
<path d="M633.1 642.5L634.3 640.9L658.0 631.3L663.0 633.8L654.8 641.1" fill="none" stroke="#161616" stroke-width="1.10" stroke-linejoin="round"/>
<path d="M636.8 643.9L650.0 639.8C653.3 639.6 655.9 640.0 654.9 641.0C654.4 642.2 654.1 642.9 653.1 642.9L637.8 646.7" fill="none" stroke="#161616" stroke-width="1.10"/>
<path d="M634.3 640.9C634.1 641.2 633.0 642.0 632.8 642.8C632.5 643.6 632.5 644.7 632.8 645.5C633.0 646.3 633.7 647.3 634.5 647.5C635.4 647.7 637.2 646.8 637.8 646.7" fill="none" stroke="#161616" stroke-width="1.22"/>
<path d="M635.8 641.7C635.6 642.0 634.9 642.9 634.8 643.5C634.6 644.1 634.9 645.1 635.1 645.5C635.4 645.9 636.3 646.0 636.5 646.1" fill="none" stroke="#161616" stroke-width="0.85"/>
<path d="M658.0 631.3C663.2 628.6 681.0 619.9 689.0 615.3C697.1 610.7 701.5 607.0 706.5 603.8C711.6 600.5 714.6 598.6 719.5 595.8C724.4 593.0 731.7 589.7 735.9 587.0C740.2 584.4 742.8 582.8 745.0 579.8C747.3 576.7 749.1 572.4 749.5 568.8C750.0 565.2 748.9 562.4 747.5 558.3C746.2 554.2 743.4 548.5 741.5 544.3C739.7 540.0 737.1 534.7 736.2 532.8" fill="none" stroke="#161616" stroke-width="0.98"/>
<path d="M647.7 648.0C650.3 645.6 658.4 637.7 663.0 633.8C667.7 629.8 671.2 627.4 675.5 624.3C679.9 621.2 686.8 616.8 689.0 615.3" fill="none" stroke="#161616" stroke-width="0.98"/>
<path d="M648.6 649.0C651.2 646.6 659.3 638.7 663.9 634.8C668.6 630.8 672.1 628.4 676.4 625.3C680.8 622.2 687.7 617.8 689.9 616.3" fill="none" stroke="#161616" stroke-width="0.85"/>
<path d="M649.5 650.0C652.1 647.6 660.2 639.7 664.8 635.8C669.5 631.8 675.3 627.9 677.3 626.3" fill="none" stroke="#161616" stroke-width="0.73"/>
<path d="M689.0 615.3L690.0 619.3" fill="none" stroke="#161616" stroke-width="0.98" stroke-linejoin="round"/>
<path d="M690.0 619.3C693.0 617.3 702.4 610.6 707.5 607.3C712.7 604.0 716.1 602.1 721.0 599.3C726.0 596.5 732.7 593.1 737.0 590.3C741.4 587.5 744.8 585.8 747.3 582.3C749.9 578.8 751.8 573.3 752.2 569.3C752.7 565.3 751.6 562.5 750.2 558.3C748.9 554.1 746.0 548.4 744.1 544.3C742.3 540.2 739.8 535.5 738.9 533.8" fill="none" stroke="#161616" stroke-width="0.98"/>
<path d="M690.3 620.5C693.3 618.5 702.7 611.8 707.8 608.5C713.0 605.2 716.4 603.3 721.3 600.5C726.3 597.7 734.7 593.0 737.3 591.5" fill="none" stroke="#161616" stroke-width="0.73"/>
<path d="M645.3 649.5L646.5 647.9L670.2 638.3L675.2 640.8L667.0 648.1" fill="none" stroke="#161616" stroke-width="1.10" stroke-linejoin="round"/>
<path d="M648.9 650.9L662.2 646.8C665.5 646.6 668.1 647.0 667.1 648.0C666.6 649.2 666.3 649.9 665.3 649.9L649.9 653.7" fill="none" stroke="#161616" stroke-width="1.10"/>
<path d="M646.5 647.9C646.2 648.2 645.2 649.0 644.9 649.8C644.6 650.5 644.6 651.7 644.9 652.5C645.2 653.2 645.9 654.3 646.7 654.5C647.5 654.7 649.4 653.8 649.9 653.7" fill="none" stroke="#161616" stroke-width="1.22"/>
<path d="M647.9 648.7C647.7 649.0 647.0 649.8 646.9 650.5C646.8 651.1 647.0 652.0 647.3 652.5C647.6 652.9 648.5 653.0 648.7 653.1" fill="none" stroke="#161616" stroke-width="0.85"/>
<path d="M670.2 638.3C675.4 635.6 693.1 626.8 701.2 622.3C709.3 617.7 713.6 614.0 718.7 610.8C723.8 607.5 726.8 605.6 731.7 602.8C736.6 600.0 743.9 596.7 748.1 594.0C752.4 591.3 754.9 589.8 757.2 586.8C759.5 583.7 761.3 579.3 761.7 575.8C762.1 572.2 761.0 569.3 759.7 565.3C758.4 561.2 755.6 555.5 753.7 551.3C751.8 547.0 749.3 541.7 748.4 539.8" fill="none" stroke="#161616" stroke-width="0.98"/>
<path d="M659.9 654.9C662.4 652.6 670.6 644.7 675.2 640.8C679.8 636.8 683.4 634.3 687.7 631.3C692.0 628.2 699.0 623.8 701.2 622.3" fill="none" stroke="#161616" stroke-width="0.98"/>
<path d="M660.8 655.9C663.3 653.6 671.5 645.7 676.1 641.8C680.7 637.8 684.3 635.3 688.6 632.3C692.9 629.2 699.9 624.8 702.1 623.3" fill="none" stroke="#161616" stroke-width="0.85"/>
<path d="M661.6 656.9C664.2 654.6 672.4 646.7 677.0 642.8C681.6 638.8 687.4 634.8 689.5 633.3" fill="none" stroke="#161616" stroke-width="0.73"/>
<path d="M701.2 622.3L702.2 626.3" fill="none" stroke="#161616" stroke-width="0.98" stroke-linejoin="round"/>
<path d="M702.2 626.3C705.1 624.3 714.5 617.6 719.7 614.3C724.9 610.9 728.3 609.1 733.2 606.3C738.1 603.4 744.8 600.1 749.2 597.3C753.6 594.4 757.0 592.8 759.5 589.3C762.0 585.8 763.9 580.3 764.4 576.3C764.9 572.3 763.8 569.4 762.4 565.3C761.1 561.1 758.2 555.3 756.3 551.3C754.4 547.2 752.0 542.5 751.1 540.8" fill="none" stroke="#161616" stroke-width="0.98"/>
<path d="M702.5 627.5C705.4 625.5 714.8 618.8 720.0 615.5C725.2 612.1 728.6 610.3 733.5 607.5C738.4 604.6 746.8 600.0 749.5 598.5" fill="none" stroke="#161616" stroke-width="0.73"/>
<path d="M657.5 656.4L658.6 654.8L682.4 645.2L687.4 647.7L679.1 655.0" fill="none" stroke="#161616" stroke-width="1.10" stroke-linejoin="round"/>
<path d="M661.1 657.8L674.4 653.7C677.6 653.5 680.2 653.9 679.2 654.9C678.8 656.1 678.5 656.8 677.5 656.8L662.1 660.6" fill="none" stroke="#161616" stroke-width="1.10"/>
<path d="M658.6 654.8C658.4 655.1 657.3 656.0 657.1 656.7C656.8 657.5 656.8 658.6 657.1 659.4C657.4 660.2 658.0 661.2 658.9 661.4C659.7 661.6 661.5 660.8 662.1 660.6" fill="none" stroke="#161616" stroke-width="1.22"/>
<path d="M660.1 655.6C659.9 655.9 659.2 656.8 659.1 657.4C659.0 658.1 659.2 659.0 659.5 659.4C659.8 659.9 660.6 659.9 660.9 660.0" fill="none" stroke="#161616" stroke-width="0.85"/>
<path d="M682.4 645.2C687.5 642.6 705.3 633.8 713.4 629.2C721.4 624.6 725.8 621.0 730.9 617.7C735.9 614.5 739.0 612.5 743.9 609.7C748.8 606.9 756.0 603.6 760.2 601.0C764.5 598.3 767.1 596.8 769.4 593.7C771.6 590.7 773.4 586.3 773.9 582.7C774.3 579.1 773.2 576.3 771.9 572.2C770.5 568.1 767.7 562.5 765.9 558.2C764.0 554.0 761.4 548.6 760.6 546.7" fill="none" stroke="#161616" stroke-width="0.98"/>
<path d="M672.0 661.9C674.6 659.5 682.7 651.7 687.4 647.7C692.0 643.8 695.5 641.3 699.9 638.2C704.2 635.1 711.1 630.7 713.4 629.2" fill="none" stroke="#161616" stroke-width="0.98"/>
<path d="M672.9 662.9C675.5 660.5 683.6 652.7 688.2 648.7C692.9 644.8 696.4 642.3 700.8 639.2C705.1 636.1 712.0 631.7 714.2 630.2" fill="none" stroke="#161616" stroke-width="0.85"/>
<path d="M673.8 663.9C676.4 661.5 684.5 653.7 689.1 649.7C693.8 645.8 699.6 641.8 701.6 640.2" fill="none" stroke="#161616" stroke-width="0.73"/>
<path d="M713.4 629.2L714.4 633.2" fill="none" stroke="#161616" stroke-width="0.98" stroke-linejoin="round"/>
<path d="M714.4 633.2C717.3 631.2 726.7 624.6 731.9 621.2C737.0 617.9 740.4 616.1 745.4 613.2C750.3 610.4 757.0 607.1 761.4 604.2C765.7 601.4 769.1 599.7 771.6 596.2C774.2 592.7 776.1 587.2 776.6 583.2C777.0 579.2 775.9 576.4 774.6 572.2C773.2 568.1 770.3 562.3 768.5 558.2C766.6 554.1 764.1 549.5 763.2 547.7" fill="none" stroke="#161616" stroke-width="0.98"/>
<path d="M714.6 634.4C717.6 632.4 727.0 625.8 732.1 622.4C737.3 619.1 740.7 617.3 745.6 614.4C750.6 611.6 759.0 606.9 761.6 605.4" fill="none" stroke="#161616" stroke-width="0.73"/>
<path d="M669.6 663.4L670.8 661.8L694.5 652.2L699.5 654.7L691.3 662.0" fill="none" stroke="#161616" stroke-width="1.10" stroke-linejoin="round"/>
<path d="M673.2 664.8L686.5 660.7C689.8 660.5 692.4 660.9 691.4 661.9C690.9 663.1 690.6 663.8 689.6 663.8L674.2 667.6" fill="none" stroke="#161616" stroke-width="1.10"/>
<path d="M670.8 661.8C670.5 662.1 669.5 662.9 669.2 663.7C668.9 664.5 668.9 665.6 669.2 666.4C669.5 667.2 670.2 668.2 671.0 668.4C671.8 668.6 673.7 667.7 674.2 667.6" fill="none" stroke="#161616" stroke-width="1.22"/>
<path d="M672.2 662.6C672.0 662.9 671.3 663.8 671.2 664.4C671.1 665.0 671.3 666.0 671.6 666.4C671.9 666.8 672.8 666.9 673.0 667.0" fill="none" stroke="#161616" stroke-width="0.85"/>
<path d="M694.5 652.2C699.7 649.5 717.4 640.8 725.5 636.2C733.6 631.6 737.9 628.0 743.0 624.7C748.1 621.5 751.1 619.5 756.0 616.7C760.9 613.9 768.1 610.6 772.4 608.0C776.6 605.3 779.2 603.7 781.5 600.7C783.8 597.7 785.6 593.3 786.0 589.7C786.4 586.1 785.3 583.3 784.0 579.2C782.7 575.1 779.9 569.5 778.0 565.2C776.1 561.0 773.6 555.6 772.7 553.7" fill="none" stroke="#161616" stroke-width="0.98"/>
<path d="M684.1 668.9C686.7 666.5 694.9 658.6 699.5 654.7C704.1 650.8 707.7 648.3 712.0 645.2C716.3 642.1 723.2 637.7 725.5 636.2" fill="none" stroke="#161616" stroke-width="0.98"/>
<path d="M685.0 669.9C687.6 667.5 695.8 659.6 700.4 655.7C705.0 651.8 708.6 649.3 712.9 646.2C717.2 643.1 724.1 638.7 726.4 637.2" fill="none" stroke="#161616" stroke-width="0.85"/>
<path d="M685.9 670.9C688.5 668.5 696.7 660.6 701.3 656.7C705.9 652.8 711.7 648.8 713.8 647.2" fill="none" stroke="#161616" stroke-width="0.73"/>
<path d="M725.5 636.2L726.5 640.2" fill="none" stroke="#161616" stroke-width="0.98" stroke-linejoin="round"/>
<path d="M726.5 640.2C729.4 638.2 738.8 631.5 744.0 628.2C749.2 624.9 752.6 623.0 757.5 620.2C762.4 617.4 769.1 614.0 773.5 611.2C777.9 608.4 781.3 606.7 783.8 603.2C786.3 599.7 788.2 594.2 788.7 590.2C789.2 586.2 788.1 583.4 786.7 579.2C785.4 575.0 782.5 569.3 780.6 565.2C778.7 561.1 776.3 556.5 775.4 554.7" fill="none" stroke="#161616" stroke-width="0.98"/>
<path d="M726.8 641.4C729.7 639.4 739.1 632.7 744.3 629.4C749.5 626.1 752.9 624.2 757.8 621.4C762.7 618.6 771.1 613.9 773.8 612.4" fill="none" stroke="#161616" stroke-width="0.73"/>
<path d="M681.8 670.4L682.9 668.8L706.6 659.2L711.6 661.7L703.4 669.0" fill="none" stroke="#161616" stroke-width="1.10" stroke-linejoin="round"/>
<path d="M685.4 671.8L698.6 667.7C701.9 667.5 704.5 667.9 703.5 668.9C703.0 670.1 702.8 670.8 701.8 670.8L686.4 674.6" fill="none" stroke="#161616" stroke-width="1.10"/>
<path d="M682.9 668.8C682.7 669.1 681.6 669.9 681.4 670.7C681.1 671.4 681.1 672.6 681.4 673.4C681.6 674.2 682.3 675.2 683.1 675.4C684.0 675.6 685.8 674.7 686.4 674.6" fill="none" stroke="#161616" stroke-width="1.22"/>
<path d="M684.4 669.6C684.2 669.9 683.5 670.7 683.4 671.4C683.2 672.0 683.5 672.9 683.8 673.4C684.0 673.8 684.9 673.9 685.1 674.0" fill="none" stroke="#161616" stroke-width="0.85"/>
<path d="M706.6 659.2C711.8 656.5 729.6 647.8 737.6 643.2C745.7 638.6 750.1 634.9 755.1 631.7C760.2 628.4 763.2 626.5 768.1 623.7C773.0 620.9 780.3 617.6 784.5 614.9C788.8 612.3 791.4 610.7 793.6 607.7C795.9 604.6 797.7 600.3 798.1 596.7C798.6 593.1 797.5 590.3 796.1 586.2C794.8 582.1 792.0 576.4 790.1 572.2C788.3 567.9 785.7 562.6 784.9 560.7" fill="none" stroke="#161616" stroke-width="0.98"/>
<path d="M696.3 675.8C698.9 673.5 707.0 665.6 711.6 661.7C716.3 657.7 719.8 655.3 724.1 652.2C728.5 649.1 735.4 644.7 737.6 643.2" fill="none" stroke="#161616" stroke-width="0.98"/>
<path d="M697.2 676.8C699.8 674.5 707.9 666.6 712.5 662.7C717.2 658.7 720.7 656.3 725.0 653.2C729.4 650.1 736.3 645.7 738.5 644.2" fill="none" stroke="#161616" stroke-width="0.85"/>
<path d="M698.1 677.8C700.7 675.5 708.8 667.6 713.4 663.7C718.1 659.7 723.9 655.8 725.9 654.2" fill="none" stroke="#161616" stroke-width="0.73"/>
<path d="M737.6 643.2L738.6 647.2" fill="none" stroke="#161616" stroke-width="0.98" stroke-linejoin="round"/>
<path d="M738.6 647.2C741.6 645.2 751.0 638.5 756.1 635.2C761.3 631.8 764.7 630.0 769.6 627.2C774.6 624.3 781.3 621.0 785.6 618.2C790.0 615.3 793.4 613.7 795.9 610.2C798.5 606.7 800.4 601.2 800.9 597.2C801.3 593.2 800.2 590.3 798.9 586.2C797.5 582.0 794.6 576.3 792.8 572.2C790.9 568.1 788.4 563.4 787.5 561.7" fill="none" stroke="#161616" stroke-width="0.98"/>
<path d="M738.9 648.4C741.9 646.4 751.3 639.7 756.4 636.4C761.6 633.0 765.0 631.2 769.9 628.4C774.9 625.5 783.3 620.9 785.9 619.4" fill="none" stroke="#161616" stroke-width="0.73"/>
<path d="M693.9 677.3L695.1 675.7L718.8 666.1L723.8 668.6L715.6 675.9" fill="none" stroke="#161616" stroke-width="1.10" stroke-linejoin="round"/>
<path d="M697.5 678.7L710.8 674.6C714.1 674.4 716.7 674.8 715.7 675.8C715.2 677.0 714.9 677.7 713.9 677.7L698.5 681.5" fill="none" stroke="#161616" stroke-width="1.10"/>
<path d="M695.1 675.7C694.8 676.1 693.8 676.9 693.5 677.6C693.2 678.4 693.2 679.6 693.5 680.3C693.8 681.1 694.5 682.1 695.3 682.3C696.1 682.5 698.0 681.7 698.5 681.5" fill="none" stroke="#161616" stroke-width="1.22"/>
<path d="M696.5 676.5C696.3 676.8 695.6 677.7 695.5 678.3C695.4 679.0 695.6 679.9 695.9 680.3C696.2 680.8 697.1 680.8 697.3 680.9" fill="none" stroke="#161616" stroke-width="0.85"/>
<path d="M718.8 666.1C724.0 663.5 741.7 654.7 749.8 650.1C757.9 645.6 762.2 641.9 767.3 638.6C772.4 635.4 775.4 633.4 780.3 630.6C785.2 627.8 792.4 624.6 796.7 621.9C800.9 619.2 803.5 617.7 805.8 614.6C808.1 611.6 809.9 607.2 810.3 603.6C810.7 600.1 809.6 597.2 808.3 593.1C807.0 589.1 804.2 583.4 802.3 579.1C800.4 574.9 797.9 569.6 797.0 567.6" fill="none" stroke="#161616" stroke-width="0.98"/>
<path d="M708.4 682.8C711.0 680.4 719.2 672.6 723.8 668.6C728.4 664.7 732.0 662.2 736.3 659.1C740.6 656.1 747.5 651.6 749.8 650.1" fill="none" stroke="#161616" stroke-width="0.98"/>
<path d="M709.3 683.8C711.9 681.4 720.1 673.6 724.7 669.6C729.3 665.7 732.9 663.2 737.2 660.1C741.5 657.1 748.4 652.6 750.7 651.1" fill="none" stroke="#161616" stroke-width="0.85"/>
<path d="M710.2 684.8C712.8 682.4 721.0 674.6 725.6 670.6C730.2 666.7 736.0 662.7 738.1 661.1" fill="none" stroke="#161616" stroke-width="0.73"/>
<path d="M749.8 650.1L750.8 654.1" fill="none" stroke="#161616" stroke-width="0.98" stroke-linejoin="round"/>
<path d="M750.8 654.1C753.7 652.1 763.1 645.5 768.3 642.1C773.5 638.8 776.9 637.0 781.8 634.1C786.7 631.3 793.4 628.0 797.8 625.1C802.2 622.3 805.6 620.6 808.1 617.1C810.6 613.6 812.5 608.1 813.0 604.1C813.5 600.1 812.4 597.3 811.0 593.1C809.6 589.0 806.8 583.2 804.9 579.1C803.0 575.1 800.6 570.4 799.7 568.6" fill="none" stroke="#161616" stroke-width="0.98"/>
<path d="M751.1 655.3C754.0 653.3 763.4 646.7 768.6 643.3C773.8 640.0 777.2 638.2 782.1 635.3C787.0 632.5 795.4 627.8 798.1 626.3" fill="none" stroke="#161616" stroke-width="0.73"/>
<path d="M706.1 684.3L707.2 682.7L731.0 673.1L736.0 675.6L727.8 682.9" fill="none" stroke="#161616" stroke-width="1.10" stroke-linejoin="round"/>
<path d="M709.7 685.7L723.0 681.6C726.2 681.4 728.9 681.8 727.9 682.8C727.4 684.0 727.1 684.7 726.1 684.7L710.7 688.5" fill="none" stroke="#161616" stroke-width="1.10"/>
<path d="M707.2 682.7C707.0 683.0 705.9 683.8 705.7 684.6C705.4 685.4 705.4 686.5 705.7 687.3C706.0 688.1 706.6 689.1 707.5 689.3C708.3 689.5 710.1 688.6 710.7 688.5" fill="none" stroke="#161616" stroke-width="1.22"/>
<path d="M708.7 683.5C708.5 683.8 707.8 684.7 707.7 685.3C707.6 685.9 707.8 686.9 708.1 687.3C708.4 687.7 709.2 687.8 709.5 687.9" fill="none" stroke="#161616" stroke-width="0.85"/>
<path d="M731.0 673.1C736.1 670.4 753.9 661.7 762.0 657.1C770.0 652.5 774.4 648.9 779.5 645.6C784.5 642.4 787.6 640.4 792.5 637.6C797.4 634.8 804.6 631.5 808.9 628.9C813.1 626.2 815.7 624.7 818.0 621.6C820.2 618.6 822.0 614.2 822.5 610.6C822.9 607.0 821.8 604.2 820.5 600.1C819.1 596.0 816.3 590.4 814.5 586.1C812.6 581.9 810.0 576.5 809.2 574.6" fill="none" stroke="#161616" stroke-width="0.98"/>
<path d="M720.6 689.8C723.2 687.4 731.3 679.6 736.0 675.6C740.6 671.7 744.1 669.2 748.5 666.1C752.8 663.0 759.7 658.6 762.0 657.1" fill="none" stroke="#161616" stroke-width="0.98"/>
<path d="M721.5 690.8C724.1 688.4 732.2 680.6 736.9 676.6C741.5 672.7 745.0 670.2 749.4 667.1C753.7 664.0 760.6 659.6 762.9 658.1" fill="none" stroke="#161616" stroke-width="0.85"/>
<path d="M722.4 691.8C725.0 689.4 733.1 681.6 737.8 677.6C742.4 673.7 748.2 669.7 750.2 668.1" fill="none" stroke="#161616" stroke-width="0.73"/>
<path d="M762.0 657.1L763.0 661.1" fill="none" stroke="#161616" stroke-width="0.98" stroke-linejoin="round"/>
<path d="M763.0 661.1C765.9 659.1 775.3 652.4 780.5 649.1C785.6 645.8 789.0 643.9 794.0 641.1C798.9 638.3 805.6 634.9 810.0 632.1C814.3 629.3 817.7 627.6 820.2 624.1C822.8 620.6 824.7 615.1 825.2 611.1C825.6 607.1 824.5 604.3 823.2 600.1C821.8 595.9 818.9 590.2 817.1 586.1C815.2 582.0 812.7 577.4 811.9 575.6" fill="none" stroke="#161616" stroke-width="0.98"/>
<path d="M763.2 662.3C766.2 660.3 775.6 653.6 780.8 650.3C785.9 647.0 789.3 645.1 794.2 642.3C799.2 639.5 807.6 634.8 810.2 633.3" fill="none" stroke="#161616" stroke-width="0.73"/>
<path d="M718.2 691.3L719.4 689.7L743.1 680.1L748.1 682.6L739.9 689.9" fill="none" stroke="#161616" stroke-width="1.10" stroke-linejoin="round"/>
<path d="M721.8 692.7L735.1 688.6C738.4 688.4 741.0 688.8 740.0 689.8C739.5 691.0 739.2 691.7 738.2 691.7L722.8 695.5" fill="none" stroke="#161616" stroke-width="1.10"/>
<path d="M719.4 689.7C719.1 690.0 718.1 690.8 717.8 691.6C717.5 692.3 717.5 693.5 717.8 694.3C718.1 695.1 718.8 696.1 719.6 696.3C720.4 696.5 722.3 695.6 722.8 695.5" fill="none" stroke="#161616" stroke-width="1.22"/>
<path d="M720.8 690.5C720.6 690.8 719.9 691.6 719.8 692.3C719.7 692.9 719.9 693.8 720.2 694.3C720.5 694.7 721.4 694.8 721.6 694.9" fill="none" stroke="#161616" stroke-width="0.85"/>
<path d="M743.1 680.1C748.3 677.4 766.0 668.7 774.1 664.1C782.2 659.5 786.5 655.8 791.6 652.6C796.7 649.3 799.7 647.4 804.6 644.6C809.5 641.8 816.8 638.5 821.0 635.8C825.2 633.2 827.8 631.6 830.1 628.6C832.4 625.5 834.2 621.2 834.6 617.6C835.0 614.0 833.9 611.2 832.6 607.1C831.3 603.0 828.5 597.3 826.6 593.1C824.7 588.8 822.2 583.5 821.3 581.6" fill="none" stroke="#161616" stroke-width="0.98"/>
<path d="M732.8 696.8C735.3 694.4 743.5 686.5 748.1 682.6C752.7 678.6 756.3 676.2 760.6 673.1C764.9 670.0 771.9 665.6 774.1 664.1" fill="none" stroke="#161616" stroke-width="0.98"/>
<path d="M733.6 697.8C736.2 695.4 744.4 687.5 749.0 683.6C753.6 679.6 757.2 677.2 761.5 674.1C765.8 671.0 772.8 666.6 775.0 665.1" fill="none" stroke="#161616" stroke-width="0.85"/>
<path d="M734.5 698.8C737.1 696.4 745.3 688.5 749.9 684.6C754.5 680.6 760.3 676.7 762.4 675.1" fill="none" stroke="#161616" stroke-width="0.73"/>
<path d="M774.1 664.1L775.1 668.1" fill="none" stroke="#161616" stroke-width="0.98" stroke-linejoin="round"/>
<path d="M775.1 668.1C778.0 666.1 787.4 659.4 792.6 656.1C797.8 652.7 801.2 650.9 806.1 648.1C811.0 645.2 817.7 641.9 822.1 639.1C826.5 636.2 829.9 634.6 832.4 631.1C834.9 627.6 836.8 622.1 837.3 618.1C837.8 614.1 836.7 611.2 835.3 607.1C834.0 602.9 831.1 597.2 829.2 593.1C827.3 589.0 824.9 584.3 824.0 582.6" fill="none" stroke="#161616" stroke-width="0.98"/>
<path d="M775.4 669.3C778.3 667.3 787.7 660.6 792.9 657.3C798.1 653.9 801.5 652.1 806.4 649.3C811.3 646.4 819.7 641.8 822.4 640.3" fill="none" stroke="#161616" stroke-width="0.73"/>
<path d="M730.4 698.2L731.5 696.6L755.2 687.0L760.2 689.5L752.0 696.8" fill="none" stroke="#161616" stroke-width="1.10" stroke-linejoin="round"/>
<path d="M734.0 699.6L747.2 695.5C750.5 695.3 753.1 695.8 752.1 696.8C751.6 698.0 751.4 698.6 750.4 698.6L735.0 702.4" fill="none" stroke="#161616" stroke-width="1.10"/>
<path d="M731.5 696.6C731.3 697.0 730.2 697.8 730.0 698.5C729.7 699.3 729.7 700.5 730.0 701.2C730.2 702.0 730.9 703.0 731.8 703.2C732.6 703.5 734.4 702.6 735.0 702.4" fill="none" stroke="#161616" stroke-width="1.22"/>
<path d="M733.0 697.4C732.8 697.8 732.1 698.6 732.0 699.2C731.9 699.9 732.1 700.8 732.4 701.2C732.6 701.7 733.5 701.7 733.8 701.8" fill="none" stroke="#161616" stroke-width="0.85"/>
<path d="M755.2 687.0C760.4 684.4 778.2 675.6 786.2 671.0C794.3 666.5 798.7 662.8 803.8 659.5C808.8 656.3 811.9 654.3 816.8 651.5C821.6 648.8 828.9 645.5 833.1 642.8C837.4 640.1 840.0 638.6 842.2 635.5C844.5 632.5 846.3 628.1 846.8 624.5C847.2 621.0 846.1 618.1 844.8 614.0C843.4 610.0 840.6 604.3 838.8 600.0C836.9 595.8 834.3 590.5 833.5 588.5" fill="none" stroke="#161616" stroke-width="0.98"/>
<path d="M786.2 671.0L787.2 675.0" fill="none" stroke="#161616" stroke-width="0.98" stroke-linejoin="round"/>
<path d="M787.2 675.0C790.2 673.0 799.6 666.4 804.8 663.0C809.9 659.7 813.3 657.9 818.2 655.0C823.2 652.2 829.9 648.9 834.2 646.0C838.6 643.2 842.0 641.5 844.5 638.0C847.1 634.5 849.0 629.0 849.5 625.0C849.9 621.0 848.8 618.2 847.5 614.0C846.1 609.9 843.2 604.1 841.4 600.0C839.5 596.0 837.0 591.3 836.1 589.5" fill="none" stroke="#161616" stroke-width="0.98"/>
<path d="M787.5 676.2C790.5 674.2 799.9 667.6 805.0 664.2C810.2 660.9 813.6 659.1 818.5 656.2C823.5 653.4 831.9 648.8 834.5 647.2" fill="none" stroke="#161616" stroke-width="0.73"/>
<path d="M605.0 538.8L612.1 534.2L811.0 643.2L805.0 653.8L605.0 540.0Z" fill="#fff" stroke="#161616" stroke-width="1.10" stroke-linejoin="round"/>
<path d="M605.0 538.8L805.0 652.5" fill="none" stroke="#161616" stroke-width="1.10" stroke-linejoin="round"/>
<path d="M629.5 448.5L649.0 458.0" fill="none" stroke="#161616" stroke-width="1.10" stroke-linejoin="round"/>
<path d="M628.6 449.6L648.0 459.2" fill="none" stroke="#161616" stroke-width="0.85" stroke-linejoin="round"/>
<path d="M618.0 460.0L625.0 469.0" fill="none" stroke="#161616" stroke-width="1.10" stroke-linejoin="round"/>
<path d="M629.0 471.2L654.0 461.0L645.0 472.0L646.5 484.0L643.0 486.2L625.3 475.0Z" fill="#fff" stroke="#161616" stroke-width="1.10" stroke-linejoin="round"/>
<path d="M624.8 468.6L649.3 457.8L654.3 460.8L629.4 471.6Z" fill="#fff" stroke="#161616" stroke-width="1.10" stroke-linejoin="round"/>
<path d="M626.0 469.4L650.5 458.6" fill="none" stroke="#161616" stroke-width="0.73" stroke-linejoin="round"/>
<path d="M627.2 470.2L651.8 459.4" fill="none" stroke="#161616" stroke-width="0.73" stroke-linejoin="round"/>
<path d="M628.3 470.9L653.0 460.1" fill="none" stroke="#161616" stroke-width="0.73" stroke-linejoin="round"/>
<ellipse cx="626.5" cy="472.3" rx="2.0" ry="2.6" transform="rotate(20 626.5 472.3)" fill="#fff" stroke="#161616" stroke-width="1.10"/>
<ellipse cx="630.3" cy="473.2" rx="2.4" ry="2.9" transform="rotate(20 630.3 473.2)" fill="#fff" stroke="#161616" stroke-width="1.10"/>
<ellipse cx="630.5" cy="473.2" rx="1.1" ry="1.5" transform="rotate(20 630.5 473.2)" fill="#fff" stroke="#161616" stroke-width="0.85"/>
<circle cx="637.6" cy="480" r="0.7" fill="#222" stroke="none"/>
<g transform="translate(174.4 100.1)">
<path d="M629.5 448.5L649.0 458.0" fill="none" stroke="#161616" stroke-width="1.10" stroke-linejoin="round"/>
<path d="M628.6 449.6L648.0 459.2" fill="none" stroke="#161616" stroke-width="0.85" stroke-linejoin="round"/>
<path d="M618.0 460.0L625.0 469.0" fill="none" stroke="#161616" stroke-width="1.10" stroke-linejoin="round"/>
<path d="M629.0 471.2L654.0 461.0L645.0 472.0L646.5 484.0L643.0 486.2L625.3 475.0Z" fill="#fff" stroke="#161616" stroke-width="1.10" stroke-linejoin="round"/>
<path d="M624.8 468.6L649.3 457.8L654.3 460.8L629.4 471.6Z" fill="#fff" stroke="#161616" stroke-width="1.10" stroke-linejoin="round"/>
<path d="M626.0 469.4L650.5 458.6" fill="none" stroke="#161616" stroke-width="0.73" stroke-linejoin="round"/>
<path d="M627.2 470.2L651.8 459.4" fill="none" stroke="#161616" stroke-width="0.73" stroke-linejoin="round"/>
<path d="M628.3 470.9L653.0 460.1" fill="none" stroke="#161616" stroke-width="0.73" stroke-linejoin="round"/>
<ellipse cx="626.5" cy="472.3" rx="2.0" ry="2.6" transform="rotate(20 626.5 472.3)" fill="#fff" stroke="#161616" stroke-width="1.10"/>
<ellipse cx="630.3" cy="473.2" rx="2.4" ry="2.9" transform="rotate(20 630.3 473.2)" fill="#fff" stroke="#161616" stroke-width="1.10"/>
<ellipse cx="630.5" cy="473.2" rx="1.1" ry="1.5" transform="rotate(20 630.5 473.2)" fill="#fff" stroke="#161616" stroke-width="0.85"/>
<circle cx="637.6" cy="480" r="0.7" fill="#222" stroke="none"/>
</g>
<path d="M690.0 511.2L701.0 497.5L712.5 491.0L717.6 497.5L714.0 513.6L705.0 521.3Z" fill="#fff" stroke="#161616" stroke-width="1.10" stroke-linejoin="round"/>
<path d="M714.2 487.3L717.6 488.2L717.6 495.5Z" fill="#fff" stroke="#161616" stroke-width="0.98" stroke-linejoin="round"/>
<path d="M694.6 487.5C692.5 479.5 696.5 474 701.8 474.2C706 474.4 708.5 478 709 483L711.5 492L699.5 498Z" fill="#fff" stroke="#161616" stroke-width="1.10"/>
<path d="M697 486.5C695 478.5 699 473 704.3 473.3C708.8 473.6 711.2 477.5 711.6 482.5L714.2 491.6L701.8 497.6Z" fill="#fff" stroke="#161616" stroke-width="1.22"/>
<ellipse cx="704.3" cy="481.2" rx="1.9" ry="2.5" transform="rotate(15 704.3 481.2)" fill="#fff" stroke="#161616" stroke-width="1.22"/>
<path d="M688.4 507.0L701.6 494.6L704.2 496.6L690.6 511.4Z" fill="#fff" stroke="#161616" stroke-width="1.10" stroke-linejoin="round"/>
<path d="M689.2 508.2L702.4 495.4" fill="none" stroke="#161616" stroke-width="0.73" stroke-linejoin="round"/>
<path d="M690.0 509.4L703.3 496.1" fill="none" stroke="#161616" stroke-width="0.73" stroke-linejoin="round"/>
<ellipse cx="691.2" cy="508.6" rx="1.9" ry="2.5" transform="rotate(20 691.2 508.6)" fill="#fff" stroke="#161616" stroke-width="1.10"/>
<ellipse cx="695.0" cy="509.5" rx="2.3" ry="2.8" transform="rotate(20 695.0 509.5)" fill="#fff" stroke="#161616" stroke-width="1.10"/>
<ellipse cx="695.2" cy="509.5" rx="1.0" ry="1.4" transform="rotate(20 695.2 509.5)" fill="#fff" stroke="#161616" stroke-width="0.85"/>
<circle cx="700.6" cy="514.6" r="0.7" fill="#222" stroke="none"/>
<g transform="translate(47.5 27)">
<path d="M690.0 511.2L701.0 497.5L712.5 491.0L717.6 497.5L714.0 513.6L705.0 521.3Z" fill="#fff" stroke="#161616" stroke-width="1.10" stroke-linejoin="round"/>
<path d="M714.2 487.3L717.6 488.2L717.6 495.5Z" fill="#fff" stroke="#161616" stroke-width="0.98" stroke-linejoin="round"/>
<path d="M694.6 487.5C692.5 479.5 696.5 474 701.8 474.2C706 474.4 708.5 478 709 483L711.5 492L699.5 498Z" fill="#fff" stroke="#161616" stroke-width="1.10"/>
<path d="M697 486.5C695 478.5 699 473 704.3 473.3C708.8 473.6 711.2 477.5 711.6 482.5L714.2 491.6L701.8 497.6Z" fill="#fff" stroke="#161616" stroke-width="1.22"/>
<ellipse cx="704.3" cy="481.2" rx="1.9" ry="2.5" transform="rotate(15 704.3 481.2)" fill="#fff" stroke="#161616" stroke-width="1.22"/>
<path d="M688.4 507.0L701.6 494.6L704.2 496.6L690.6 511.4Z" fill="#fff" stroke="#161616" stroke-width="1.10" stroke-linejoin="round"/>
<path d="M689.2 508.2L702.4 495.4" fill="none" stroke="#161616" stroke-width="0.73" stroke-linejoin="round"/>
<path d="M690.0 509.4L703.3 496.1" fill="none" stroke="#161616" stroke-width="0.73" stroke-linejoin="round"/>
<ellipse cx="691.2" cy="508.6" rx="1.9" ry="2.5" transform="rotate(20 691.2 508.6)" fill="#fff" stroke="#161616" stroke-width="1.10"/>
<ellipse cx="695.0" cy="509.5" rx="2.3" ry="2.8" transform="rotate(20 695.0 509.5)" fill="#fff" stroke="#161616" stroke-width="1.10"/>
<ellipse cx="695.2" cy="509.5" rx="1.0" ry="1.4" transform="rotate(20 695.2 509.5)" fill="#fff" stroke="#161616" stroke-width="0.85"/>
<circle cx="700.6" cy="514.6" r="0.7" fill="#222" stroke="none"/>
</g>
<path d="M737.5 503.0L739.5 500.5L742.0 502.0L742.5 509.0L739.5 510.5Z" fill="#fff" stroke="#161616" stroke-width="1.10" stroke-linejoin="round"/>
<circle cx="739.8" cy="505" r="0.9" fill="#222" stroke="none"/>
<path d="M832.5 585.0C831.2 587.5 827.7 594.0 825.0 600.0C822.3 606.0 819.4 613.7 816.2 621.0C813.0 628.3 810.4 636.5 806.0 644.0C801.6 651.5 796.0 658.7 790.0 666.0C784.0 673.3 776.3 681.3 770.0 688.0C763.7 694.7 756.0 702.3 752.0 706.0C748.0 709.7 747.2 709.3 746.2 710.0L748 712.3L862 647.2L868.4 632L845.2 573Z" fill="#fff" stroke="#161616" stroke-width="1.22" stroke-linejoin="round"/>
<path d="M830.8 584.1C829.5 586.6 826.0 593.1 823.3 599.1C820.6 605.1 817.7 612.8 814.5 620.1C811.3 627.4 808.7 635.6 804.3 643.1C799.9 650.6 794.3 657.8 788.3 665.1C782.3 672.4 774.6 680.4 768.3 687.1C762.0 693.8 754.3 701.4 750.3 705.1C746.3 708.8 745.5 708.4 744.5 709.1" fill="none" stroke="#161616" stroke-width="0.98"/>
<path d="M843.6 572.2L830.9 584.2" fill="none" stroke="#161616" stroke-width="0.98" stroke-linejoin="round"/>
<path d="M827.5 575.5L836.0 580.3" fill="none" stroke="#161616" stroke-width="0.98" stroke-linejoin="round"/>
<path d="M834.0 605.6L839.6 603.6L851.4 637.6L843.6 642.4Z" fill="#fff" stroke="#161616" stroke-width="1.22" stroke-linejoin="round"/>
<path d="M835.6 606.2L845.0 640.8" fill="none" stroke="#161616" stroke-width="0.85" stroke-linejoin="round"/>
<path d="M845.0 640.8L851.2 637.0" fill="none" stroke="#161616" stroke-width="0.85" stroke-linejoin="round"/>
<path d="M840.5 620.5L846.5 618.5" fill="none" stroke="#161616" stroke-width="0.85" stroke-linejoin="round"/>
<path d="M841.0 621.0L850.0 634.0" fill="none" stroke="#161616" stroke-width="0.85" stroke-linejoin="round"/>
<path d="M846.3 619.0L845.5 635.5" fill="none" stroke="#161616" stroke-width="0.85" stroke-linejoin="round"/>
<path d="M843.0 629.0L849.0 627.0" fill="none" stroke="#161616" stroke-width="0.85" stroke-linejoin="round"/>
<path d="M844.0 634.0L850.0 631.6" fill="none" stroke="#161616" stroke-width="0.85" stroke-linejoin="round"/>
<path d="M824.4 626.4L829.6 624.4L837.0 646.4L830.0 651.0Z" fill="#fff" stroke="#161616" stroke-width="1.22" stroke-linejoin="round"/>
<path d="M826.0 627.0L831.4 649.6" fill="none" stroke="#161616" stroke-width="0.85" stroke-linejoin="round"/>
<path d="M831.4 649.6L836.8 646.0" fill="none" stroke="#161616" stroke-width="0.85" stroke-linejoin="round"/>
<path d="M828.5 636.0L833.5 634.0" fill="none" stroke="#161616" stroke-width="0.85" stroke-linejoin="round"/>
<path d="M829.5 640.5L835.0 638.5" fill="none" stroke="#161616" stroke-width="0.85" stroke-linejoin="round"/>
<path d="M829.0 636.5L835.5 645.0" fill="none" stroke="#161616" stroke-width="0.85" stroke-linejoin="round"/>
<path d="M813.6 645.0L818.0 643.0L823.0 656.0L816.0 660.0Z" fill="#fff" stroke="#161616" stroke-width="1.22" stroke-linejoin="round"/>
<path d="M815.2 645.6L817.4 658.6" fill="none" stroke="#161616" stroke-width="0.85" stroke-linejoin="round"/>
<path d="M817.4 658.6L822.8 655.4" fill="none" stroke="#161616" stroke-width="0.85" stroke-linejoin="round"/>
<path d="M815.6 651.5L820.5 649.5" fill="none" stroke="#161616" stroke-width="0.85" stroke-linejoin="round"/>
<path d="M816.3 655.5L821.8 653.3" fill="none" stroke="#161616" stroke-width="0.85" stroke-linejoin="round"/>
<path d="M771.5 696.5L772.3 699.0" fill="none" stroke="#161616" stroke-width="0.98" stroke-linejoin="round"/>
<path d="M842.5 583.5l-3 6.5 3.2 1-2 5 3.5 1.2 2.8-6-3-1 2.2-5.2zM846.5 586l2.5 1.2-3.5 9.5" stroke="#222" stroke-width="1.34" fill="none"/>
<path d="M645.6 426.9L655.75 432.1" stroke="#111" stroke-width="2.70" fill="none"/>
<path d="M648.6 428.5L655.75 432.1" stroke="#888" stroke-width="0.85" stroke-dasharray="0.8 0.8" fill="none"/>
<ellipse cx="645.6" cy="426.9" rx="1.91" ry="2.24" transform="rotate(25 645.6 426.9)" fill="#111" stroke="none"/>
<ellipse cx="660.65" cy="436" rx="1.81" ry="2.12" transform="rotate(25 660.65 436)" fill="#111" stroke="none"/>
<path d="M663.6 425.1L667.1 424.6L668.0 436.5L664.5 439.1L662.8 435.6Z" fill="#fff" stroke="#161616" stroke-width="1.10" stroke-linejoin="round"/>
<path d="M664.5 439.1L664.2 428.1" fill="none" stroke="#161616" stroke-width="0.85" stroke-linejoin="round"/>
<path d="M667.6 430.0L675.5 434.4L678.1 429.8L670.2 425.4Z" fill="#fff" stroke="#161616" stroke-width="1.10" stroke-linejoin="round"/>
<ellipse cx="676.8" cy="432.1" rx="1.3" ry="2.6" transform="rotate(29.116146266078523 676.8 432.1)" fill="#fff" stroke="#161616" stroke-width="1.10"/>
<ellipse cx="670.6" cy="441.4" rx="1.50" ry="1.77" transform="rotate(25 670.6 441.4)" fill="#111" stroke="none"/>
<ellipse cx="674.65" cy="443.85" rx="1.50" ry="1.77" transform="rotate(25 674.65 443.85)" fill="#111" stroke="none"/>
<ellipse cx="680.6" cy="435.3" rx="1.40" ry="1.65" transform="rotate(25 680.6 435.3)" fill="#111" stroke="none"/>
<ellipse cx="701.6" cy="447.5" rx="1.40" ry="1.65" transform="rotate(25 701.6 447.5)" fill="#111" stroke="none"/>
<path d="M706.2 453.1L714.0 457.2L716.4 452.6L708.6 448.5Z" fill="#fff" stroke="#161616" stroke-width="1.10" stroke-linejoin="round"/>
<ellipse cx="715.2" cy="454.9" rx="1.3" ry="2.6" transform="rotate(27.728257422319068 715.2 454.9)" fill="#fff" stroke="#161616" stroke-width="1.10"/>
<path d="M714.4 454.0L718.7 455.7L717.9 464.5L714.4 468.0L713.5 464.5Z" fill="#fff" stroke="#161616" stroke-width="1.10" stroke-linejoin="round"/>
<path d="M714.4 468.0L714.9 457.5" fill="none" stroke="#161616" stroke-width="0.85" stroke-linejoin="round"/>
<ellipse cx="704.75" cy="461" rx="1.50" ry="1.77" transform="rotate(25 704.75 461)" fill="#111" stroke="none"/>
<ellipse cx="709.1" cy="463.6" rx="1.50" ry="1.77" transform="rotate(25 709.1 463.6)" fill="#111" stroke="none"/>
<ellipse cx="718.75" cy="469.4" rx="1.81" ry="2.12" transform="rotate(25 718.75 469.4)" fill="#111" stroke="none"/>
<path d="M734.5 478.15L724 472.4" stroke="#111" stroke-width="2.70" fill="none"/>
<path d="M731.4 476.4L724 472.4" stroke="#888" stroke-width="0.85" stroke-dasharray="0.8 0.8" fill="none"/>
<ellipse cx="734.5" cy="478.15" rx="1.91" ry="2.24" transform="rotate(25 734.5 478.15)" fill="#111" stroke="none"/>
<path d="M755 490L766.25 496.25" stroke="#111" stroke-width="2.70" fill="none"/>
<path d="M758.4 491.9L766.25 496.25" stroke="#888" stroke-width="0.85" stroke-dasharray="0.8 0.8" fill="none"/>
<ellipse cx="755" cy="490" rx="1.91" ry="2.24" transform="rotate(25 755 490)" fill="#111" stroke="none"/>
<ellipse cx="771.25" cy="499.25" rx="1.81" ry="2.12" transform="rotate(25 771.25 499.25)" fill="#111" stroke="none"/>
<path d="M773.8 488.8L777.2 488.2L778.1 500.1L774.6 502.8L773.0 499.2Z" fill="#fff" stroke="#161616" stroke-width="1.10" stroke-linejoin="round"/>
<path d="M774.6 502.8L774.4 491.8" fill="none" stroke="#161616" stroke-width="0.85" stroke-linejoin="round"/>
<path d="M777.8 493.6L785.7 498.0L788.2 493.5L780.3 489.1Z" fill="#fff" stroke="#161616" stroke-width="1.10" stroke-linejoin="round"/>
<ellipse cx="787.0" cy="495.8" rx="1.3" ry="2.6" transform="rotate(29.116146266078523 787.0 495.8)" fill="#fff" stroke="#161616" stroke-width="1.10"/>
<ellipse cx="780.5" cy="505.5" rx="1.50" ry="1.77" transform="rotate(25 780.5 505.5)" fill="#111" stroke="none"/>
<ellipse cx="785.5" cy="507.5" rx="1.50" ry="1.77" transform="rotate(25 785.5 507.5)" fill="#111" stroke="none"/>
<ellipse cx="791.25" cy="499.25" rx="1.40" ry="1.65" transform="rotate(25 791.25 499.25)" fill="#111" stroke="none"/>
<ellipse cx="812.5" cy="511.25" rx="1.40" ry="1.65" transform="rotate(25 812.5 511.25)" fill="#111" stroke="none"/>
<path d="M817.2 516.7L825.0 520.8L827.4 516.2L819.6 512.1Z" fill="#fff" stroke="#161616" stroke-width="1.10" stroke-linejoin="round"/>
<ellipse cx="826.2" cy="518.5" rx="1.3" ry="2.6" transform="rotate(27.7282574223194 826.2 518.5)" fill="#fff" stroke="#161616" stroke-width="1.10"/>
<path d="M825.4 517.6L829.7 519.3L828.9 528.1L825.4 531.6L824.5 528.1Z" fill="#fff" stroke="#161616" stroke-width="1.10" stroke-linejoin="round"/>
<path d="M825.4 531.6L825.9 521.1" fill="none" stroke="#161616" stroke-width="0.85" stroke-linejoin="round"/>
<ellipse cx="813.75" cy="524.5" rx="1.50" ry="1.77" transform="rotate(25 813.75 524.5)" fill="#111" stroke="none"/>
<ellipse cx="818.75" cy="527" rx="1.50" ry="1.77" transform="rotate(25 818.75 527)" fill="#111" stroke="none"/>
<ellipse cx="828.75" cy="532.5" rx="1.81" ry="2.12" transform="rotate(25 828.75 532.5)" fill="#111" stroke="none"/>
<path d="M845 541.25L833.75 535" stroke="#111" stroke-width="2.70" fill="none"/>
<path d="M841.6 539.4L833.75 535" stroke="#888" stroke-width="0.85" stroke-dasharray="0.8 0.8" fill="none"/>
<ellipse cx="845" cy="541.25" rx="1.91" ry="2.24" transform="rotate(25 845 541.25)" fill="#111" stroke="none"/>
<path d="M625.6 688.8L639.4 696.2L642.2 691.0L628.4 683.6Z" fill="#fff" stroke="#161616" stroke-width="1.10" stroke-linejoin="round"/>
<ellipse cx="640.8" cy="693.6" rx="1.3" ry="2.9" transform="rotate(28.201628218694715 640.8 693.6)" fill="#fff" stroke="#161616" stroke-width="1.10"/>
<path d="M619 681.0L620.7 684.5M622.8 681.0C622.8 684.0 621 686.3 619 686.1" stroke="#111" stroke-width="1.59" fill="none"/>
<path d="M644.5 695.25L646.2 698.75M648.3 695.25C648.3 698.25 646.5 700.55 644.5 700.35" stroke="#111" stroke-width="1.59" fill="none"/>
<path d="M534.0 751.5L548.0 759.8L551.0 754.8L537.0 746.5Z" fill="#fff" stroke="#161616" stroke-width="1.10" stroke-linejoin="round"/>
<ellipse cx="549.5" cy="757.3" rx="1.3" ry="2.9" transform="rotate(30.661884828388107 549.5 757.3)" fill="#fff" stroke="#161616" stroke-width="1.10"/>
<path d="M527.5 744.0L529.2 747.5M531.3 744.0C531.3 747.0 529.5 749.3 527.5 749.1" stroke="#111" stroke-width="1.59" fill="none"/>
<path d="M553 758.25L554.7 761.75M556.8 758.25C556.8 761.25 555 763.55 553 763.35" stroke="#111" stroke-width="1.59" fill="none"/>
<path d="M303.4 269.2L298.7 277.8" stroke="#1a1a1a" stroke-width="8.20" fill="none"/>
<path d="M303.0 269.9L298.9 277.4" stroke="#fff" stroke-width="6.60" fill="none"/>
<path d="M303.0 269.9L298.9 277.4" stroke="#666" stroke-width="0.73" fill="none"/>
<path d="M298.7 277.8L294.0 286.4" stroke="#111" stroke-width="8.00" fill="none"/>
<path d="M298.3 278.5L294.2 286.0" stroke="#ccc" stroke-width="6.00" stroke-dasharray="0.8 1.2" fill="none"/>
<path d="M326.0 353.8L320.3 363.8" stroke="#1a1a1a" stroke-width="7.60" fill="none"/>
<path d="M325.6 354.5L320.5 363.5" stroke="#fff" stroke-width="6.00" fill="none"/>
<path d="M325.6 354.5L320.5 363.5" stroke="#666" stroke-width="0.73" fill="none"/>
<path d="M320.3 363.8L316.8 370.0" stroke="#111" stroke-width="5.40" fill="none"/>
<path d="M319.9 364.5L317.0 369.6" stroke="#ccc" stroke-width="3.40" stroke-dasharray="0.8 1.2" fill="none"/>
<path d="M529.8 83.4L535.8 84.3" stroke="#111" stroke-width="5.60" fill="none"/>
<path d="M535.8 84.4L541.2 85.0" stroke="#222" stroke-width="4.60" fill="none"/>
<path d="M536.4 84.4L540.6 84.9" stroke="#ddd" stroke-width="2.60" stroke-dasharray="0.8 1" fill="none"/>
<path d="M531 83.2L534.8 83.8" stroke="#888" stroke-width="1.46" fill="none"/>
<path d="M506.0 109.6L511.0 111.0" stroke="#111" stroke-width="5.20" fill="none"/>
<path d="M511.0 111.0L515.6 112.2" stroke="#222" stroke-width="4.40" fill="none"/>
<path d="M511.6 111.1L515.2 112" stroke="#ddd" stroke-width="2.40" stroke-dasharray="0.8 1" fill="none"/>
<path d="M507.6 111.5L506.9 117.0" stroke="#111" stroke-width="3.40" fill="none"/>
<path d="M507.2 108.8L509.6 110.4" stroke="#999" stroke-width="1.34" fill="none"/>
<path d="M728.6 148.6L733.6 150.6" stroke="#111" stroke-width="6.20" fill="none"/>
<path d="M733.6 150.6L737.2 152.0" stroke="#222" stroke-width="4.60" fill="none"/>
<ellipse cx="729.6" cy="149" rx="1.7" ry="2.6" transform="rotate(-20 729.6 149)" fill="#eee" stroke="#111" stroke-width="0.98"/>
<path d="M682.4 168.6L687.0 170.6" stroke="#111" stroke-width="5.00" fill="none"/>
<path d="M687.0 170.6L691.4 172.6" stroke="#1a1a1a" stroke-width="4.40" fill="none"/>
<path d="M687.4 171.5L686.6 177.2" stroke="#111" stroke-width="3.40" fill="none"/>
<ellipse cx="683.3" cy="169" rx="1.4" ry="2.1" transform="rotate(-20 683.3 169)" fill="#eee" stroke="#111" stroke-width="0.85"/>
<path d="M687.8 171L690.8 172.3" stroke="#ccc" stroke-width="2.20" stroke-dasharray="0.7 1" fill="none"/>
<path d="M581.2 162.4l4.2 1.6 1.2 2.4-1.4 2.2 0.4 3 2.6 1.4 0.4 1.8-2.4 0.8-6.4-2.2-0.8-2 2.2-1 2.2 0.4-0.2-2.6-2.8-2-1-2.4z" fill="#111" stroke="#111" stroke-width="0.73"/>
<ellipse cx="583.6" cy="164.8" rx="1.3" ry="0.8" transform="rotate(25 583.6 164.8)" fill="#fff" stroke="none"/>
<ellipse cx="582.8000000000001" cy="172.0" rx="1.3" ry="0.7" transform="rotate(20 582.8000000000001 172.0)" fill="#fff" stroke="none"/>
<ellipse cx="586.4000000000001" cy="173.6" rx="1.1" ry="0.6" transform="rotate(20 586.4000000000001 173.6)" fill="#fff" stroke="none"/>
<path d="M560.6 304.8l4.2 1.6 1.2 2.4-1.4 2.2 0.4 3 2.6 1.4 0.4 1.8-2.4 0.8-6.4-2.2-0.8-2 2.2-1 2.2 0.4-0.2-2.6-2.8-2-1-2.4z" fill="#111" stroke="#111" stroke-width="0.73"/>
<ellipse cx="563.0" cy="307.2" rx="1.3" ry="0.8" transform="rotate(25 563.0 307.2)" fill="#fff" stroke="none"/>
<ellipse cx="562.2" cy="314.40000000000003" rx="1.3" ry="0.7" transform="rotate(20 562.2 314.40000000000003)" fill="#fff" stroke="none"/>
<ellipse cx="565.8000000000001" cy="316.0" rx="1.1" ry="0.6" transform="rotate(20 565.8000000000001 316.0)" fill="#fff" stroke="none"/>
<path d="M484.2 85.3L521.5 81.6" stroke="#161616" stroke-width="0.98"/>
<path d="M528.0 81.0L521.8 84.0L521.3 79.2Z" fill="#111" stroke="none"/>
<path d="M480.5 96.0L496.4 105.6" stroke="#161616" stroke-width="0.98"/>
<path d="M502.0 109.0L495.2 107.7L497.7 103.6Z" fill="#111" stroke="none"/>
<path d="M706.0 85.8L642.5 84.0" stroke="#161616" stroke-width="0.98"/>
<path d="M636.0 83.8L642.6 81.6L642.4 86.4Z" fill="#111" stroke="none"/>
<path d="M825.1 122.6L762.2 121.1" stroke="#161616" stroke-width="0.98"/>
<path d="M755.7 121.0L762.3 118.8L762.1 123.5Z" fill="#111" stroke="none"/>
<path d="M596.5 135.6L588.6 154.0" stroke="#161616" stroke-width="0.98"/>
<path d="M586.0 160.0L586.4 153.1L590.8 155.0Z" fill="#111" stroke="none"/>
<path d="M811.0 159.6L743.8 151.6" stroke="#161616" stroke-width="0.98"/>
<path d="M737.3 150.8L744.0 149.2L743.5 154.0Z" fill="#111" stroke="none"/>
<path d="M811.0 166.5L698.8 170.1" stroke="#161616" stroke-width="0.98"/>
<path d="M692.3 170.3L698.7 167.7L698.9 172.5Z" fill="#111" stroke="none"/>
<path d="M570.0 184.5L552.8 168.9" stroke="#161616" stroke-width="0.98"/>
<path d="M548.0 164.5L554.4 167.1L551.2 170.6Z" fill="#111" stroke="none"/>
<path d="M590.5 194.2L615.6 189.9" stroke="#161616" stroke-width="0.98"/>
<path d="M622.0 188.8L616.0 192.3L615.2 187.5Z" fill="#111" stroke="none"/>
<path d="M305.9 218.3L302.0 259.3" stroke="#161616" stroke-width="0.98"/>
<path d="M301.4 265.8L299.6 259.1L304.4 259.6Z" fill="#111" stroke="none"/>
<path d="M517.5 225.5L497.0 203.0" stroke="#161616" stroke-width="0.98"/>
<path d="M492.6 198.2L498.8 201.4L495.2 204.6Z" fill="#111" stroke="none"/>
<path d="M516.0 243.0L491.1 261.4" stroke="#161616" stroke-width="0.98"/>
<path d="M485.9 265.3L489.7 259.5L492.6 263.4Z" fill="#111" stroke="none"/>
<path d="M580.0 261.5L566.6 297.2" stroke="#161616" stroke-width="0.98"/>
<path d="M564.3 303.3L564.3 296.4L568.8 298.1Z" fill="#111" stroke="none"/>
<path d="M398.1 362.4L335.9 360.8" stroke="#161616" stroke-width="0.98"/>
<path d="M329.4 360.6L336.0 358.4L335.8 363.2Z" fill="#111" stroke="none"/>
<path d="M542.5 356.2L522.0 336.1" stroke="#161616" stroke-width="0.98"/>
<path d="M517.3 331.6L523.6 334.4L520.3 337.9Z" fill="#111" stroke="none"/>
<path d="M562.2 358.5L596.3 333.5" stroke="#161616" stroke-width="0.98"/>
<path d="M601.5 329.6L597.7 335.4L594.8 331.5Z" fill="#111" stroke="none"/>
<path d="M645.2 400.7L649.2 419.6" stroke="#161616" stroke-width="0.98"/>
<path d="M650.5 426.0L646.8 420.1L651.5 419.1Z" fill="#111" stroke="none"/>
<path d="M682.5 403.0L675.1 419.2" stroke="#161616" stroke-width="0.98"/>
<path d="M672.4 425.1L672.9 418.2L677.3 420.2Z" fill="#111" stroke="none"/>
<path d="M704.7 411.6L686.6 429.3" stroke="#161616" stroke-width="0.98"/>
<path d="M682.0 433.9L685.0 427.6L688.3 431.1Z" fill="#111" stroke="none"/>
<path d="M726.8 433.4L685.7 442.5" stroke="#161616" stroke-width="0.98"/>
<path d="M679.4 443.9L685.2 440.2L686.3 444.8Z" fill="#111" stroke="none"/>
<path d="M609.8 444.6L651.1 438.4" stroke="#161616" stroke-width="0.98"/>
<path d="M657.5 437.4L651.4 440.7L650.7 436.0Z" fill="#111" stroke="none"/>
<path d="M609.9 446.8L659.4 442.3" stroke="#161616" stroke-width="0.98"/>
<path d="M665.9 441.8L659.6 444.7L659.2 439.9Z" fill="#111" stroke="none"/>
<path d="M832.0 714.6L790.3 694.8" stroke="#161616" stroke-width="0.98"/>
<path d="M784.4 692.0L791.3 692.6L789.2 697.0Z" fill="#111" stroke="none"/>
<path d="M361.0 697.4L365.9 689.5" stroke="#161616" stroke-width="0.98"/>
<path d="M369.4 684.0L368.0 690.8L363.9 688.2Z" fill="#111" stroke="none"/>
<path d="M407.6 732.9L415.4 722.8" stroke="#161616" stroke-width="0.98"/>
<path d="M419.4 717.7L417.3 724.3L413.5 721.4Z" fill="#111" stroke="none"/>
<path d="M504.5 424.0L510.1 444.0" stroke="#161616" stroke-width="0.98"/>
<path d="M511.8 450.3L507.7 444.7L512.4 443.4Z" fill="#111" stroke="none"/>
<path d="M534.4 426.7L529.8 452.4" stroke="#161616" stroke-width="0.98"/>
<path d="M528.6 458.8L527.4 452.0L532.1 452.8Z" fill="#111" stroke="none"/>
<path d="M413.6 503.7L417.0 509.1" stroke="#161616" stroke-width="0.98"/>
<path d="M420.4 514.6L414.9 510.4L419.0 507.8Z" fill="#111" stroke="none"/>
<path d="M448.9 507.0L440.9 516.9" stroke="#161616" stroke-width="0.98"/>
<path d="M436.8 521.9L439.0 515.3L442.7 518.4Z" fill="#111" stroke="none"/>
<circle cx="472" cy="87" r="12.4" fill="#fff" stroke="#161616" stroke-width="1.10"/>
<text x="472" y="92.1" text-anchor="middle" font-size="14" fill="#454545" stroke="none" opacity="0.99">12</text>
<circle cx="718.3" cy="85.8" r="12.4" fill="#fff" stroke="#161616" stroke-width="1.10"/>
<text x="718.3" y="90.9" text-anchor="middle" font-size="14" fill="#454545" stroke="none" opacity="0.99">4</text>
<circle cx="837.4" cy="122.8" r="12.4" fill="#fff" stroke="#161616" stroke-width="1.10"/>
<text x="837.4" y="127.9" text-anchor="middle" font-size="14" fill="#454545" stroke="none" opacity="0.99">4</text>
<circle cx="600.2" cy="123.8" r="12.4" fill="#fff" stroke="#161616" stroke-width="1.10"/>
<text x="600.2" y="128.9" text-anchor="middle" font-size="14" fill="#454545" stroke="none" opacity="0.99">18</text>
<circle cx="625.8" cy="123.8" r="12.4" fill="#fff" stroke="#161616" stroke-width="1.10"/>
<text x="625.8" y="128.9" text-anchor="middle" font-size="14" fill="#454545" stroke="none" opacity="0.99">19</text>
<circle cx="823.2" cy="161.5" r="12.4" fill="#fff" stroke="#161616" stroke-width="1.10"/>
<text x="823.2" y="166.6" text-anchor="middle" font-size="14" fill="#454545" stroke="none" opacity="0.99">10</text>
<circle cx="578.2" cy="193.8" r="12.4" fill="#fff" stroke="#161616" stroke-width="1.10"/>
<text x="578.2" y="198.9" text-anchor="middle" font-size="14" fill="#454545" stroke="none" opacity="0.99">17</text>
<circle cx="307" cy="206" r="12.4" fill="#fff" stroke="#161616" stroke-width="1.10"/>
<text x="307" y="211.1" text-anchor="middle" font-size="14" fill="#454545" stroke="none" opacity="0.99">12</text>
<circle cx="525.8" cy="234.8" r="12.4" fill="#fff" stroke="#161616" stroke-width="1.10"/>
<text x="525.8" y="239.9" text-anchor="middle" font-size="14" fill="#454545" stroke="none" opacity="0.99">11</text>
<circle cx="583.2" cy="249.6" r="12.4" fill="#fff" stroke="#161616" stroke-width="1.10"/>
<text x="583.2" y="254.7" text-anchor="middle" font-size="14" fill="#454545" stroke="none" opacity="0.99">18</text>
<circle cx="608.2" cy="249.6" r="12.4" fill="#fff" stroke="#161616" stroke-width="1.10"/>
<text x="608.2" y="254.7" text-anchor="middle" font-size="14" fill="#454545" stroke="none" opacity="0.99">19</text>
<circle cx="410.4" cy="362.6" r="12.4" fill="#fff" stroke="#161616" stroke-width="1.10"/>
<text x="410.4" y="367.7" text-anchor="middle" font-size="14" fill="#454545" stroke="none" opacity="0.99">13</text>
<circle cx="551.3" cy="364.9" r="12.4" fill="#fff" stroke="#161616" stroke-width="1.10"/>
<text x="551.3" y="370.0" text-anchor="middle" font-size="14" fill="#454545" stroke="none" opacity="0.99">16</text>
<circle cx="641.7" cy="388.9" r="12.4" fill="#fff" stroke="#161616" stroke-width="1.10"/>
<text x="641.7" y="394.0" text-anchor="middle" font-size="14" fill="#454545" stroke="none" opacity="0.99">8</text>
<circle cx="688" cy="391.9" r="12.4" fill="#fff" stroke="#161616" stroke-width="1.10"/>
<text x="688" y="397.0" text-anchor="middle" font-size="14" fill="#454545" stroke="none" opacity="0.99">7</text>
<circle cx="713.5" cy="403.2" r="12.4" fill="#fff" stroke="#161616" stroke-width="1.10"/>
<text x="713.5" y="408.3" text-anchor="middle" font-size="14" fill="#454545" stroke="none" opacity="0.99">14</text>
<circle cx="738.9" cy="430.4" r="12.4" fill="#fff" stroke="#161616" stroke-width="1.10"/>
<text x="738.9" y="435.5" text-anchor="middle" font-size="14" fill="#454545" stroke="none" opacity="0.99">9</text>
<circle cx="597.6" cy="446.5" r="12.4" fill="#fff" stroke="#161616" stroke-width="1.10"/>
<text x="597.6" y="451.6" text-anchor="middle" font-size="14" fill="#454545" stroke="none" opacity="0.99">15</text>
<circle cx="501.4" cy="411.7" r="12.4" fill="#fff" stroke="#161616" stroke-width="1.10"/>
<text x="501.4" y="416.8" text-anchor="middle" font-size="14" fill="#454545" stroke="none" opacity="0.99">6</text>
<circle cx="535.9" cy="414" r="12.4" fill="#fff" stroke="#161616" stroke-width="1.10"/>
<text x="535.9" y="419.1" text-anchor="middle" font-size="14" fill="#454545" stroke="none" opacity="0.99">5</text>
<circle cx="407.6" cy="492.9" r="12.4" fill="#fff" stroke="#161616" stroke-width="1.10"/>
<text x="407.6" y="498.0" text-anchor="middle" font-size="14" fill="#454545" stroke="none" opacity="0.99">6</text>
<circle cx="458.3" cy="495.9" r="12.4" fill="#fff" stroke="#161616" stroke-width="1.10"/>
<text x="458.3" y="501.0" text-anchor="middle" font-size="14" fill="#454545" stroke="none" opacity="0.99">5</text>
<circle cx="354" cy="712" r="12.4" fill="#fff" stroke="#161616" stroke-width="1.10"/>
<text x="354" y="717.1" text-anchor="middle" font-size="14" fill="#454545" stroke="none" opacity="0.99">3</text>
<circle cx="399" cy="742" r="12.4" fill="#fff" stroke="#161616" stroke-width="1.10"/>
<text x="399" y="747.1" text-anchor="middle" font-size="14" fill="#454545" stroke="none" opacity="0.99">2</text>
<circle cx="843" cy="718" r="12.4" fill="#fff" stroke="#161616" stroke-width="1.10"/>
<text x="843" y="723.1" text-anchor="middle" font-size="14" fill="#454545" stroke="none" opacity="0.99">1</text>
</svg>
</body></html>
